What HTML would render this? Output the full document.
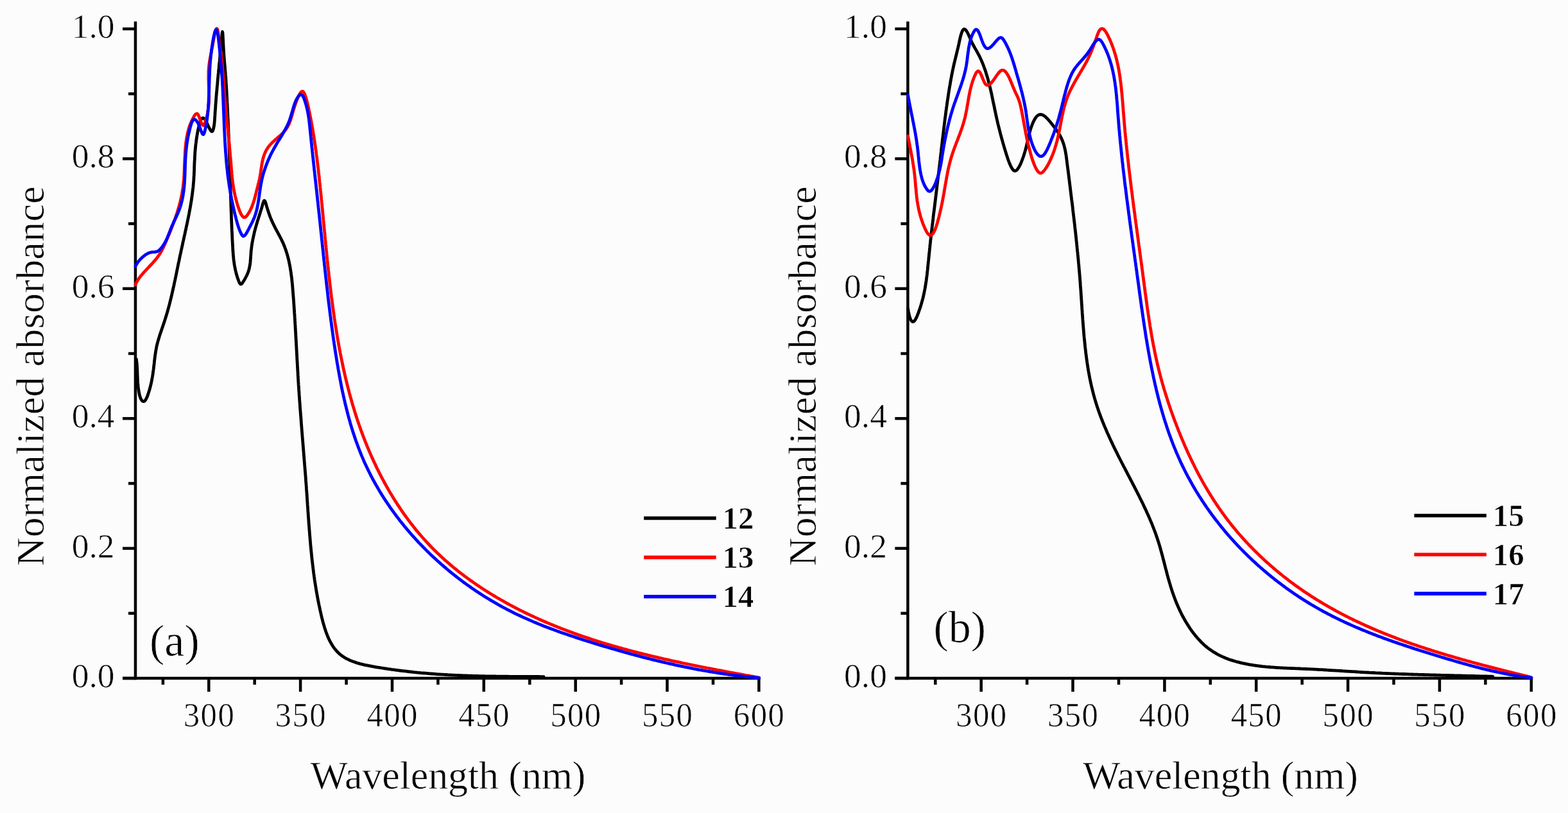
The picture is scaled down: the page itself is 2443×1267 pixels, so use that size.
<!DOCTYPE html>
<html><head><meta charset="utf-8"><title>Normalized absorbance spectra</title>
<style>
html,body{margin:0;padding:0;background:#fcfcfc;}
svg{display:block;}
text{font-family:"Liberation Serif","Times New Roman",serif;fill:#000;stroke:#fcfcfc;stroke-width:0.7px;}
</style></head>
<body>
<svg width="2443" height="1267" viewBox="0 0 2443 1267">
<rect width="2443" height="1267" fill="#fcfcfc"/>
<line x1="211.0" y1="33.5" x2="211.0" y2="1059.2" stroke="#000" stroke-width="4.5"/>
<line x1="191.0" y1="1057.0" x2="1184.8" y2="1057.0" stroke="#000" stroke-width="4.5"/>
<line x1="191.0" y1="1057.0" x2="211.0" y2="1057.0" stroke="#000" stroke-width="4.5"/>
<line x1="200.0" y1="955.8" x2="211.0" y2="955.8" stroke="#000" stroke-width="4.5"/>
<line x1="191.0" y1="854.6" x2="211.0" y2="854.6" stroke="#000" stroke-width="4.5"/>
<line x1="200.0" y1="753.4" x2="211.0" y2="753.4" stroke="#000" stroke-width="4.5"/>
<line x1="191.0" y1="652.2" x2="211.0" y2="652.2" stroke="#000" stroke-width="4.5"/>
<line x1="200.0" y1="551.0" x2="211.0" y2="551.0" stroke="#000" stroke-width="4.5"/>
<line x1="191.0" y1="449.8" x2="211.0" y2="449.8" stroke="#000" stroke-width="4.5"/>
<line x1="200.0" y1="348.6" x2="211.0" y2="348.6" stroke="#000" stroke-width="4.5"/>
<line x1="191.0" y1="247.4" x2="211.0" y2="247.4" stroke="#000" stroke-width="4.5"/>
<line x1="200.0" y1="146.2" x2="211.0" y2="146.2" stroke="#000" stroke-width="4.5"/>
<line x1="191.0" y1="45.0" x2="211.0" y2="45.0" stroke="#000" stroke-width="4.5"/>
<line x1="253.9" y1="1057.0" x2="253.9" y2="1067.0" stroke="#000" stroke-width="4.5"/>
<line x1="325.3" y1="1057.0" x2="325.3" y2="1078.0" stroke="#000" stroke-width="4.5"/>
<line x1="396.7" y1="1057.0" x2="396.7" y2="1067.0" stroke="#000" stroke-width="4.5"/>
<line x1="468.1" y1="1057.0" x2="468.1" y2="1078.0" stroke="#000" stroke-width="4.5"/>
<line x1="539.6" y1="1057.0" x2="539.6" y2="1067.0" stroke="#000" stroke-width="4.5"/>
<line x1="611.0" y1="1057.0" x2="611.0" y2="1078.0" stroke="#000" stroke-width="4.5"/>
<line x1="682.4" y1="1057.0" x2="682.4" y2="1067.0" stroke="#000" stroke-width="4.5"/>
<line x1="753.8" y1="1057.0" x2="753.8" y2="1078.0" stroke="#000" stroke-width="4.5"/>
<line x1="825.3" y1="1057.0" x2="825.3" y2="1067.0" stroke="#000" stroke-width="4.5"/>
<line x1="896.7" y1="1057.0" x2="896.7" y2="1078.0" stroke="#000" stroke-width="4.5"/>
<line x1="968.1" y1="1057.0" x2="968.1" y2="1067.0" stroke="#000" stroke-width="4.5"/>
<line x1="1039.5" y1="1057.0" x2="1039.5" y2="1078.0" stroke="#000" stroke-width="4.5"/>
<line x1="1111.0" y1="1057.0" x2="1111.0" y2="1067.0" stroke="#000" stroke-width="4.5"/>
<line x1="1182.4" y1="1057.0" x2="1182.4" y2="1078.0" stroke="#000" stroke-width="4.5"/>
<text transform="translate(178.5,1071.0) scale(1.0,1)" text-anchor="end" font-size="53.5">0.0</text>
<text transform="translate(178.5,868.6) scale(1.0,1)" text-anchor="end" font-size="53.5">0.2</text>
<text transform="translate(178.5,666.2) scale(1.0,1)" text-anchor="end" font-size="53.5">0.4</text>
<text transform="translate(178.5,463.8) scale(1.0,1)" text-anchor="end" font-size="53.5">0.6</text>
<text transform="translate(178.5,261.4) scale(1.0,1)" text-anchor="end" font-size="53.5">0.8</text>
<text transform="translate(178.5,59.0) scale(1.0,1)" text-anchor="end" font-size="53.5">1.0</text>
<text transform="translate(326.0,1132.0) scale(0.95,1)" text-anchor="middle" font-size="53.5" letter-spacing="1.5">300</text>
<text transform="translate(468.8,1132.0) scale(0.95,1)" text-anchor="middle" font-size="53.5" letter-spacing="1.5">350</text>
<text transform="translate(611.7,1132.0) scale(0.95,1)" text-anchor="middle" font-size="53.5" letter-spacing="1.5">400</text>
<text transform="translate(754.5,1132.0) scale(0.95,1)" text-anchor="middle" font-size="53.5" letter-spacing="1.5">450</text>
<text transform="translate(897.4,1132.0) scale(0.95,1)" text-anchor="middle" font-size="53.5" letter-spacing="1.5">500</text>
<text transform="translate(1040.2,1132.0) scale(0.95,1)" text-anchor="middle" font-size="53.5" letter-spacing="1.5">550</text>
<text transform="translate(1183.1,1132.0) scale(0.95,1)" text-anchor="middle" font-size="53.5" letter-spacing="1.5">600</text>
<text x="483.5" y="1228.5" font-size="62" textLength="429" lengthAdjust="spacing">Wavelength (nm)</text>
<text transform="translate(67.5,882.3) rotate(-90)" x="0" y="0" font-size="62" textLength="592" lengthAdjust="spacing">Normalized absorbance</text>
<text x="233.0" y="1021.5" font-size="70">(a)</text>
<path d="M212.5,560.0L212.8,562.9L213.1,565.6L213.4,568.2L213.5,570.6L213.7,573.0L213.8,575.2L213.9,577.5L214.0,579.7L214.0,581.9L214.1,584.1L214.2,586.4L214.3,588.8L214.4,591.4L214.5,594.1L214.7,596.9L215.0,599.9L215.3,603.0L215.7,606.2L216.1,609.3L216.7,612.3L217.3,615.1L218.0,617.8L218.8,620.1L219.8,622.2L220.8,623.8L221.8,624.9L222.9,625.6L224.1,625.7L225.2,625.1L226.4,623.9L227.5,622.0L228.7,619.6L229.8,617.0L230.8,614.1L231.7,611.2L232.6,608.4L233.5,605.5L234.2,602.7L234.9,599.9L235.5,597.2L236.1,594.5L236.6,591.8L237.1,589.1L237.6,586.4L238.0,583.8L238.4,581.2L238.7,578.6L239.1,576.0L239.4,573.4L239.7,570.9L240.0,568.3L240.3,565.8L240.5,563.3L240.8,560.9L241.1,558.4L241.4,556.0L241.7,553.5L242.1,551.1L242.5,548.7L242.8,546.3L243.3,543.9L243.7,541.5L244.2,539.1L244.8,536.7L245.4,534.4L246.0,532.0L246.7,529.7L247.4,527.3L248.1,525.0L248.8,522.6L249.6,520.3L250.4,517.9L251.2,515.6L252.0,513.3L252.8,510.9L253.6,508.6L254.4,506.2L255.2,503.9L256.0,501.5L256.7,499.2L257.5,496.8L258.2,494.5L259.0,492.1L259.7,489.7L260.4,487.3L261.1,485.0L261.7,482.6L262.4,480.2L263.0,477.8L263.7,475.4L264.3,473.0L264.9,470.6L265.5,468.2L266.1,465.7L266.7,463.3L267.3,460.9L267.8,458.5L268.4,456.1L268.9,453.6L269.5,451.2L270.0,448.7L270.6,446.3L271.1,443.9L271.6,441.4L272.1,439.0L272.7,436.5L273.2,434.1L273.7,431.6L274.2,429.2L274.7,426.7L275.2,424.2L275.7,421.8L276.2,419.3L276.7,416.9L277.2,414.4L277.7,411.9L278.2,409.5L278.8,407.0L279.3,404.5L279.8,402.0L280.3,399.6L280.8,397.1L281.4,394.6L281.9,392.2L282.4,389.7L283.0,387.2L283.5,384.7L284.1,382.3L284.6,379.8L285.1,377.3L285.7,374.8L286.2,372.4L286.8,369.9L287.3,367.4L287.9,365.0L288.4,362.5L288.9,360.0L289.5,357.6L290.0,355.1L290.5,352.6L291.1,350.2L291.6,347.7L292.1,345.2L292.6,342.8L293.1,340.3L293.6,337.9L294.1,335.4L294.6,333.0L295.0,330.5L295.5,328.1L295.9,325.6L296.4,323.2L296.8,320.7L297.2,318.3L297.6,315.9L298.0,313.5L298.4,311.0L298.7,308.6L299.1,306.2L299.4,303.8L299.7,301.4L300.0,298.9L300.3,296.5L300.6,294.1L300.9,291.7L301.1,289.3L301.3,287.0L301.5,284.6L301.7,282.2L301.9,279.8L302.0,277.4L302.1,275.1L302.3,272.7L302.4,270.3L302.5,267.9L302.6,265.5L302.7,263.1L302.7,260.7L302.8,258.3L302.9,255.9L303.0,253.5L303.1,251.0L303.3,248.5L303.4,246.0L303.5,243.5L303.7,241.0L303.8,238.4L304.0,235.8L304.2,233.2L304.5,230.6L304.7,227.9L305.0,225.2L305.4,222.5L305.7,219.7L306.1,216.9L306.5,214.0L307.0,211.1L307.5,208.2L308.0,205.2L308.6,202.2L309.3,199.2L310.0,196.2L310.7,193.3L311.5,190.6L312.4,188.2L313.3,186.3L314.3,184.8L315.3,184.0L316.5,183.8L317.7,184.4L319.0,185.8L320.3,187.9L321.7,190.5L323.1,193.3L324.4,196.3L325.8,199.0L327.1,201.5L328.3,203.4L329.4,204.6L330.4,204.9L331.3,204.1L332.0,202.4L332.6,200.4L333.1,198.1L333.5,195.7L333.9,193.2L334.1,190.7L334.4,188.0L334.5,185.3L334.7,182.6L334.9,179.9L335.0,177.2L335.2,174.5L335.4,171.8L335.6,169.2L335.8,166.6L335.9,163.9L336.1,161.4L336.3,158.8L336.5,156.2L336.7,153.7L336.9,151.1L337.1,148.6L337.3,146.1L337.6,143.6L337.8,141.1L338.0,138.6L338.2,136.1L338.4,133.6L338.7,131.2L338.9,128.7L339.1,126.3L339.3,123.8L339.6,121.4L339.8,118.9L340.0,116.5L340.3,114.0L340.5,111.6L340.7,109.2L341.0,106.7L341.2,104.3L341.4,101.8L341.7,99.4L341.9,96.9L342.2,94.5L342.4,92.0L342.6,89.5L342.9,87.1L343.1,84.6L343.3,82.1L343.6,79.6L343.8,77.1L344.0,74.5L344.3,72.0L344.5,69.5L344.7,66.9L345.0,64.3L345.2,61.7L345.4,59.1L345.7,56.5L345.9,53.9L346.1,51.7L346.3,50.1L346.5,49.5L346.8,50.3L347.0,52.2L347.2,55.2L347.4,58.8L347.6,62.8L347.8,66.9L348.0,70.8L348.2,74.5L348.4,78.0L348.6,81.2L348.8,84.2L349.0,87.0L349.2,89.7L349.4,92.2L349.5,94.5L349.7,96.8L349.9,98.9L350.1,101.0L350.3,103.0L350.4,105.0L350.6,106.9L350.8,108.9L350.9,110.8L351.1,112.8L351.3,114.8L351.4,116.9L351.6,119.1L351.8,121.3L351.9,123.6L352.1,126.0L352.2,128.4L352.4,130.8L352.5,133.3L352.7,135.8L352.8,138.3L353.0,140.9L353.1,143.5L353.2,146.1L353.4,148.7L353.5,151.3L353.7,154.0L353.8,156.6L353.9,159.2L354.1,161.8L354.2,164.4L354.3,167.0L354.4,169.6L354.6,172.2L354.7,174.8L354.8,177.3L354.9,179.9L355.0,182.4L355.2,184.9L355.3,187.5L355.4,190.0L355.5,192.5L355.6,195.0L355.7,197.5L355.8,200.0L355.9,202.5L356.0,205.0L356.1,207.5L356.2,209.9L356.3,212.4L356.4,214.9L356.5,217.3L356.6,219.8L356.7,222.3L356.8,224.7L356.9,227.2L357.0,229.7L357.1,232.1L357.2,234.6L357.3,237.1L357.4,239.5L357.4,242.0L357.5,244.5L357.6,246.9L357.7,249.4L357.8,251.9L357.9,254.4L357.9,256.8L358.0,259.3L358.1,261.8L358.2,264.3L358.2,266.8L358.3,269.3L358.4,271.8L358.5,274.3L358.5,276.8L358.6,279.3L358.7,281.8L358.8,284.3L358.8,286.8L358.9,289.3L359.0,291.8L359.1,294.3L359.1,296.8L359.2,299.4L359.3,301.9L359.4,304.4L359.4,306.9L359.5,309.4L359.6,311.9L359.7,314.5L359.8,317.0L359.8,319.5L359.9,322.0L360.0,324.5L360.1,327.0L360.2,329.6L360.3,332.1L360.4,334.6L360.4,337.1L360.5,339.6L360.6,342.1L360.7,344.7L360.8,347.2L360.9,349.7L361.0,352.2L361.1,354.7L361.2,357.2L361.3,359.7L361.5,362.2L361.6,364.7L361.7,367.2L361.8,369.7L361.9,372.2L362.0,374.6L362.2,377.1L362.3,379.6L362.4,382.0L362.6,384.5L362.7,386.9L362.8,389.3L363.0,391.8L363.2,394.2L363.3,396.6L363.6,399.1L363.8,401.5L364.0,404.0L364.3,406.4L364.7,408.9L365.0,411.4L365.4,413.9L365.9,416.4L366.4,418.9L366.9,421.5L367.6,424.1L368.2,426.7L369.0,429.3L369.8,432.0L370.7,434.7L371.7,437.4L372.7,440.0L373.8,441.9L375.0,442.9L376.4,442.5L377.7,441.0L379.1,438.8L380.6,436.4L382.0,434.0L383.3,431.5L384.6,429.0L385.7,426.4L386.7,423.9L387.5,421.4L388.2,419.0L388.7,416.5L389.2,414.1L389.6,411.7L389.9,409.3L390.1,406.8L390.3,404.4L390.5,402.0L390.6,399.6L390.8,397.2L391.0,394.8L391.1,392.3L391.4,389.9L391.7,387.4L392.0,384.9L392.3,382.4L392.7,379.9L393.1,377.5L393.6,375.0L394.0,372.5L394.6,370.0L395.1,367.5L395.7,365.0L396.2,362.5L396.8,360.1L397.5,357.6L398.1,355.2L398.8,352.8L399.5,350.4L400.2,348.0L400.9,345.6L401.6,343.3L402.4,340.9L403.1,338.5L403.9,336.2L404.7,333.8L405.4,331.3L406.2,328.8L407.0,326.3L407.8,323.7L408.5,321.1L409.3,318.4L410.1,315.8L410.9,313.7L411.6,312.6L412.4,312.8L413.2,314.1L414.0,316.4L414.8,319.1L415.6,322.0L416.5,324.9L417.3,327.6L418.2,330.3L419.1,332.9L420.0,335.4L420.9,337.9L421.9,340.3L422.8,342.6L423.9,344.9L424.9,347.2L426.0,349.4L427.1,351.7L428.2,353.9L429.3,356.1L430.5,358.2L431.6,360.4L432.8,362.5L433.9,364.7L435.1,366.8L436.2,369.0L437.3,371.1L438.4,373.3L439.4,375.4L440.5,377.6L441.5,379.8L442.4,382.0L443.3,384.3L444.1,386.5L445.0,388.8L445.7,391.1L446.5,393.4L447.2,395.7L447.9,398.0L448.5,400.4L449.1,402.7L449.7,405.1L450.2,407.5L450.7,409.9L451.2,412.3L451.7,414.7L452.1,417.2L452.5,419.6L452.9,422.1L453.3,424.5L453.6,427.0L453.9,429.5L454.3,431.9L454.6,434.4L454.8,436.9L455.1,439.4L455.3,441.9L455.6,444.4L455.8,447.0L456.0,449.5L456.2,452.0L456.4,454.5L456.6,457.0L456.8,459.5L457.0,462.0L457.2,464.6L457.4,467.1L457.6,469.6L457.7,472.1L457.9,474.6L458.1,477.1L458.2,479.6L458.4,482.2L458.6,484.7L458.7,487.2L458.9,489.7L459.1,492.2L459.2,494.7L459.4,497.2L459.5,499.7L459.7,502.2L459.8,504.7L460.0,507.2L460.1,509.7L460.2,512.3L460.4,514.8L460.5,517.3L460.7,519.8L460.8,522.3L460.9,524.8L461.1,527.3L461.2,529.8L461.4,532.3L461.5,534.8L461.6,537.3L461.8,539.8L461.9,542.3L462.0,544.8L462.2,547.3L462.3,549.8L462.4,552.3L462.6,554.8L462.7,557.3L462.8,559.8L463.0,562.3L463.1,564.8L463.3,567.3L463.4,569.8L463.5,572.3L463.7,574.8L463.8,577.3L464.0,579.8L464.1,582.3L464.2,584.7L464.4,587.2L464.5,589.7L464.7,592.2L464.8,594.7L465.0,597.2L465.1,599.7L465.3,602.2L465.5,604.7L465.6,607.2L465.8,609.7L466.0,612.2L466.1,614.7L466.3,617.1L466.5,619.6L466.6,622.1L466.8,624.6L467.0,627.1L467.2,629.6L467.4,632.1L467.5,634.6L467.7,637.1L467.9,639.6L468.1,642.0L468.3,644.5L468.5,647.0L468.7,649.5L468.9,652.0L469.1,654.5L469.2,657.0L469.4,659.5L469.6,661.9L469.8,664.4L470.0,666.9L470.2,669.4L470.4,671.9L470.6,674.4L470.8,676.9L471.0,679.4L471.2,681.8L471.4,684.3L471.6,686.8L471.8,689.3L472.0,691.8L472.2,694.3L472.4,696.8L472.6,699.2L472.8,701.7L473.0,704.2L473.2,706.7L473.4,709.2L473.6,711.7L473.8,714.2L474.0,716.6L474.2,719.1L474.4,721.6L474.6,724.1L474.8,726.6L475.0,729.1L475.2,731.6L475.4,734.0L475.6,736.5L475.8,739.0L476.0,741.5L476.2,744.0L476.4,746.5L476.5,748.9L476.7,751.4L476.9,753.9L477.1,756.4L477.3,758.9L477.4,761.4L477.6,763.9L477.8,766.3L478.0,768.8L478.1,771.3L478.3,773.8L478.5,776.3L478.6,778.8L478.8,781.3L479.0,783.7L479.1,786.2L479.3,788.7L479.5,791.2L479.7,793.7L479.8,796.2L480.0,798.7L480.2,801.2L480.3,803.6L480.5,806.1L480.7,808.6L480.9,811.1L481.0,813.6L481.2,816.1L481.4,818.6L481.6,821.1L481.8,823.5L482.0,826.0L482.2,828.5L482.4,831.0L482.5,833.5L482.8,836.0L483.0,838.5L483.2,841.0L483.4,843.5L483.6,846.0L483.8,848.4L484.0,850.9L484.3,853.4L484.5,855.9L484.8,858.4L485.0,860.9L485.3,863.4L485.5,865.9L485.8,868.4L486.0,870.9L486.3,873.4L486.6,875.9L486.9,878.3L487.2,880.8L487.5,883.3L487.8,885.8L488.1,888.3L488.4,890.8L488.7,893.3L489.1,895.8L489.4,898.3L489.8,900.8L490.1,903.3L490.5,905.8L490.9,908.3L491.3,910.8L491.7,913.3L492.1,915.8L492.5,918.3L492.9,920.8L493.3,923.3L493.8,925.8L494.2,928.3L494.7,930.8L495.1,933.3L495.6,935.8L496.1,938.3L496.6,940.8L497.1,943.3L497.7,945.8L498.2,948.3L498.7,950.8L499.3,953.3L499.9,955.8L500.4,958.3L501.0,960.8L501.6,963.4L502.3,965.9L502.9,968.3L503.6,970.8L504.3,973.3L505.0,975.7L505.7,978.2L506.5,980.6L507.3,983.0L508.1,985.3L509.0,987.7L509.9,990.0L510.8,992.3L511.8,994.5L512.8,996.7L513.9,998.9L515.0,1001.0L516.2,1003.0L517.4,1005.1L518.6,1007.0L519.9,1008.9L521.3,1010.8L522.8,1012.6L524.3,1014.3L525.8,1016.0L527.4,1017.6L529.1,1019.1L530.9,1020.6L532.7,1022.0L534.6,1023.3L536.6,1024.6L538.6,1025.8L540.7,1026.9L542.8,1027.9L545.0,1029.0L547.2,1029.9L549.5,1030.8L551.8,1031.6L554.2,1032.4L556.6,1033.2L559.0,1033.9L561.5,1034.6L564.0,1035.2L566.5,1035.8L569.0,1036.4L571.6,1036.9L574.2,1037.4L576.7,1037.9L579.3,1038.4L581.9,1038.9L584.5,1039.3L587.1,1039.8L589.7,1040.2L592.3,1040.6L594.8,1041.0L597.4,1041.4L600.0,1041.8L602.5,1042.2L605.1,1042.6L607.7,1042.9L610.2,1043.3L612.8,1043.6L615.3,1044.0L617.8,1044.3L620.4,1044.7L622.9,1045.0L625.4,1045.3L627.9,1045.6L630.5,1045.9L633.0,1046.2L635.5,1046.5L638.0,1046.8L640.5,1047.0L643.0,1047.3L645.5,1047.6L648.0,1047.8L650.5,1048.1L653.0,1048.3L655.5,1048.6L658.0,1048.8L660.4,1049.0L662.9,1049.2L665.4,1049.4L667.9,1049.6L670.4,1049.8L672.8,1050.0L675.3,1050.2L677.8,1050.4L680.2,1050.6L682.7,1050.8L685.2,1050.9L687.6,1051.1L690.1,1051.2L692.6,1051.4L695.0,1051.5L697.5,1051.7L699.9,1051.8L702.4,1051.9L704.9,1052.1L707.3,1052.2L709.8,1052.3L712.2,1052.4L714.7,1052.5L717.1,1052.6L719.6,1052.7L722.1,1052.8L724.5,1052.9L727.0,1053.0L729.4,1053.1L731.9,1053.2L734.3,1053.2L736.8,1053.3L739.3,1053.4L741.7,1053.5L744.2,1053.5L746.6,1053.6L749.1,1053.6L751.6,1053.7L754.0,1053.7L756.5,1053.8L759.0,1053.8L761.4,1053.9L763.9,1053.9L766.4,1054.0L768.8,1054.0L771.3,1054.0L773.8,1054.1L776.3,1054.1L778.8,1054.1L781.2,1054.1L783.7,1054.2L786.2,1054.2L788.7,1054.2L791.2,1054.2L793.7,1054.3L796.2,1054.3L798.7,1054.3L801.2,1054.3L803.7,1054.3L806.3,1054.4L808.8,1054.4L811.3,1054.4L813.8,1054.4L816.3,1054.4L818.9,1054.4L821.4,1054.4L824.0,1054.5L826.5,1054.5L829.0,1054.5L831.6,1054.5L834.2,1054.5L836.7,1054.5L839.3,1054.5L841.9,1054.6L844.4,1054.6L847.0,1054.6" fill="none" stroke="#000" stroke-width="4.8" stroke-linejoin="round" stroke-linecap="round"/>
<path d="M211.0,444.0L211.7,442.1L212.5,440.2L213.6,438.4L214.7,436.5L216.0,434.6L217.3,432.7L218.8,430.8L220.4,428.8L222.1,426.9L223.8,424.9L225.6,423.0L227.4,421.0L229.3,419.0L231.1,417.0L233.0,415.0L234.9,413.0L236.8,411.0L238.6,409.0L240.4,406.9L242.2,404.9L243.9,402.8L245.5,400.7L247.0,398.6L248.4,396.6L249.7,394.5L251.0,392.3L252.2,390.2L253.3,388.1L254.3,385.9L255.3,383.8L256.3,381.6L257.3,379.4L258.2,377.3L259.2,375.1L260.1,372.9L261.1,370.7L262.0,368.4L262.9,366.2L263.9,364.0L264.8,361.7L265.7,359.5L266.6,357.2L267.5,354.9L268.4,352.6L269.3,350.3L270.2,348.0L271.0,345.7L271.9,343.4L272.7,341.1L273.5,338.7L274.3,336.4L275.1,334.0L275.9,331.7L276.6,329.3L277.3,326.9L278.1,324.5L278.7,322.1L279.4,319.7L280.0,317.3L280.7,314.9L281.3,312.4L281.8,310.0L282.4,307.5L282.9,305.1L283.4,302.6L283.8,300.1L284.2,297.6L284.6,295.1L285.0,292.6L285.3,290.1L285.6,287.6L285.9,285.1L286.1,282.6L286.4,280.0L286.6,277.5L286.7,274.9L286.9,272.4L287.0,269.8L287.1,267.3L287.2,264.7L287.3,262.1L287.4,259.6L287.5,257.0L287.6,254.5L287.7,251.9L287.8,249.4L287.9,246.8L288.0,244.3L288.2,241.7L288.3,239.2L288.4,236.7L288.6,234.1L288.8,231.6L289.0,229.1L289.3,226.6L289.5,224.1L289.8,221.7L290.2,219.2L290.5,216.7L290.9,214.3L291.4,211.9L291.9,209.5L292.4,207.1L293.0,204.7L293.6,202.3L294.3,200.0L295.0,197.6L295.8,195.3L296.7,193.0L297.6,190.8L298.6,188.5L299.7,186.3L300.8,184.1L302.0,181.9L303.2,179.8L304.6,178.1L305.9,177.1L307.3,177.2L308.7,178.7L310.1,181.6L311.4,185.4L312.8,189.1L314.1,192.2L315.3,194.5L316.5,195.5L317.6,195.0L318.7,193.2L319.7,190.6L320.6,187.7L321.4,184.9L322.1,182.2L322.8,179.5L323.3,176.9L323.8,174.3L324.2,171.8L324.6,169.3L324.9,166.8L325.1,164.3L325.3,161.9L325.5,159.4L325.6,157.0L325.6,154.5L325.7,152.1L325.7,149.6L325.6,147.2L325.6,144.7L325.5,142.2L325.5,139.7L325.4,137.1L325.3,134.6L325.2,132.0L325.1,129.5L325.0,126.9L324.9,124.4L324.9,121.9L324.9,119.3L324.9,116.8L324.9,114.4L324.9,111.9L325.0,109.5L325.2,107.2L325.4,104.9L325.6,102.6L325.9,100.4L326.2,98.1L326.5,95.8L326.9,93.6L327.3,91.2L327.7,88.9L328.2,86.5L328.7,84.0L329.2,81.4L329.7,78.7L330.2,75.9L330.8,73.0L331.4,70.0L331.9,66.8L332.5,63.6L333.1,60.4L333.7,57.3L334.3,54.3L334.9,51.6L335.5,49.2L336.1,47.3L336.7,45.8L337.3,44.8L337.8,44.5L338.4,44.9L338.9,46.1L339.4,48.2L339.9,51.0L340.3,54.3L340.8,57.9L341.2,61.5L341.6,64.9L342.0,68.0L342.4,70.9L342.8,73.6L343.1,76.2L343.4,78.6L343.8,80.9L344.1,83.1L344.4,85.2L344.6,87.3L344.9,89.4L345.2,91.5L345.4,93.6L345.7,95.8L345.9,98.1L346.1,100.4L346.4,102.7L346.6,105.1L346.8,107.5L347.0,109.9L347.2,112.4L347.4,114.9L347.6,117.5L347.8,120.0L348.0,122.6L348.2,125.2L348.4,127.8L348.6,130.4L348.8,133.0L349.0,135.7L349.2,138.3L349.4,140.9L349.6,143.5L349.8,146.0L350.0,148.6L350.2,151.2L350.4,153.7L350.6,156.3L350.8,158.8L351.1,161.3L351.3,163.8L351.5,166.4L351.8,168.9L352.0,171.4L352.2,173.9L352.5,176.4L352.7,178.8L352.9,181.3L353.2,183.8L353.4,186.3L353.7,188.7L353.9,191.2L354.2,193.7L354.4,196.1L354.6,198.6L354.9,201.1L355.1,203.5L355.4,206.0L355.6,208.4L355.8,210.9L356.1,213.3L356.3,215.8L356.6,218.3L356.8,220.7L357.0,223.2L357.3,225.6L357.5,228.1L357.7,230.6L358.0,233.1L358.2,235.5L358.4,238.0L358.6,240.5L358.8,243.0L359.1,245.5L359.3,248.0L359.5,250.5L359.7,253.0L359.9,255.5L360.1,258.1L360.3,260.6L360.5,263.1L360.7,265.7L360.9,268.2L361.1,270.7L361.4,273.2L361.6,275.7L361.9,278.1L362.1,280.6L362.4,283.0L362.7,285.4L363.1,287.8L363.4,290.2L363.8,292.6L364.2,295.0L364.7,297.4L365.2,299.8L365.7,302.2L366.2,304.7L366.8,307.2L367.4,309.7L368.1,312.3L368.8,314.9L369.6,317.6L370.4,320.2L371.3,322.9L372.2,325.5L373.1,328.1L374.2,330.7L375.2,333.1L376.4,335.2L377.6,336.9L378.9,338.2L380.3,338.8L381.7,338.6L383.3,337.6L384.9,335.9L386.4,333.7L387.9,331.3L389.3,328.9L390.5,326.4L391.6,324.0L392.7,321.5L393.6,319.0L394.5,316.5L395.3,314.0L396.1,311.4L396.8,308.9L397.5,306.4L398.1,303.8L398.8,301.3L399.4,298.7L400.1,296.2L400.7,293.6L401.4,291.1L402.0,288.5L402.7,286.0L403.3,283.5L403.8,281.0L404.4,278.5L404.9,276.1L405.3,273.6L405.7,271.2L406.1,268.8L406.4,266.4L406.8,264.0L407.1,261.6L407.5,259.3L407.8,257.0L408.2,254.7L408.6,252.4L409.1,250.2L409.6,247.9L410.2,245.7L410.9,243.5L411.6,241.4L412.5,239.2L413.4,237.1L414.4,235.0L415.6,232.9L416.9,230.8L418.3,228.8L419.9,226.8L421.6,224.8L423.5,222.8L425.5,220.9L427.6,218.9L429.8,217.0L431.9,215.2L434.0,213.3L436.1,211.5L438.1,209.7L440.0,207.9L441.7,206.1L443.2,204.4L444.7,202.7L445.9,201.0L447.1,199.2L448.1,197.5L449.1,195.7L450.0,193.9L450.8,192.0L451.5,190.1L452.3,188.2L452.9,186.2L453.6,184.1L454.3,181.9L454.9,179.6L455.6,177.2L456.3,174.7L457.1,172.1L457.9,169.4L458.8,166.6L459.8,163.5L460.9,160.4L462.1,157.2L463.3,154.1L464.5,151.1L465.8,148.4L467.1,146.1L468.3,144.3L469.6,143.0L470.8,142.4L471.9,142.5L472.9,143.5L473.9,145.0L474.8,147.0L475.7,149.3L476.5,151.8L477.2,154.2L477.9,156.7L478.6,159.2L479.2,161.7L479.8,164.2L480.4,166.8L480.9,169.3L481.4,171.9L482.0,174.4L482.5,176.9L483.0,179.4L483.5,182.0L484.0,184.5L484.5,187.0L485.0,189.5L485.4,192.0L485.9,194.5L486.3,197.0L486.8,199.5L487.2,202.0L487.6,204.5L488.0,207.0L488.4,209.5L488.8,212.0L489.2,214.5L489.6,217.0L490.0,219.5L490.4,222.0L490.7,224.5L491.1,226.9L491.5,229.4L491.8,231.9L492.2,234.4L492.5,236.9L492.8,239.3L493.1,241.8L493.5,244.3L493.8,246.7L494.1,249.2L494.4,251.7L494.7,254.2L495.0,256.6L495.3,259.1L495.6,261.6L495.9,264.0L496.2,266.5L496.4,269.0L496.7,271.4L497.0,273.9L497.3,276.4L497.5,278.8L497.8,281.3L498.0,283.8L498.3,286.3L498.6,288.7L498.8,291.2L499.1,293.7L499.3,296.2L499.6,298.6L499.8,301.1L500.1,303.6L500.3,306.1L500.6,308.5L500.8,311.0L501.1,313.5L501.3,316.0L501.6,318.5L501.8,321.0L502.0,323.4L502.3,325.9L502.5,328.4L502.8,330.9L503.0,333.4L503.2,335.9L503.5,338.4L503.7,340.8L503.9,343.3L504.2,345.8L504.4,348.3L504.7,350.8L504.9,353.3L505.1,355.8L505.4,358.3L505.6,360.8L505.9,363.3L506.1,365.8L506.3,368.3L506.6,370.8L506.8,373.3L507.1,375.8L507.3,378.2L507.5,380.7L507.8,383.2L508.0,385.7L508.3,388.2L508.5,390.7L508.8,393.2L509.0,395.7L509.3,398.2L509.5,400.7L509.8,403.2L510.0,405.7L510.3,408.2L510.6,410.7L510.8,413.2L511.1,415.7L511.4,418.2L511.6,420.7L511.9,423.2L512.2,425.7L512.4,428.2L512.7,430.7L513.0,433.2L513.3,435.7L513.6,438.1L513.8,440.6L514.1,443.1L514.4,445.6L514.7,448.1L515.0,450.6L515.3,453.1L515.6,455.6L515.9,458.1L516.2,460.6L516.5,463.1L516.9,465.6L517.2,468.0L517.5,470.5L517.8,473.0L518.2,475.5L518.5,478.0L518.8,480.5L519.2,483.0L519.5,485.4L519.9,487.9L520.2,490.4L520.6,492.9L520.9,495.4L521.3,497.8L521.7,500.3L522.0,502.8L522.4,505.3L522.8,507.7L523.2,510.2L523.6,512.7L524.0,515.2L524.4,517.6L524.8,520.1L525.2,522.6L525.6,525.0L526.0,527.5L526.4,530.0L526.9,532.4L527.3,534.9L527.7,537.3L528.2,539.8L528.6,542.3L529.1,544.7L529.6,547.2L530.0,549.6L530.5,552.1L531.0,554.5L531.5,557.0L532.0,559.4L532.5,561.9L533.0,564.3L533.5,566.8L534.0,569.2L534.5,571.6L535.0,574.1L535.6,576.5L536.1,578.9L536.7,581.4L537.2,583.8L537.8,586.2L538.4,588.7L538.9,591.1L539.5,593.5L540.1,595.9L540.7,598.3L541.3,600.8L541.9,603.2L542.5,605.6L543.2,608.0L543.8,610.4L544.4,612.8L545.1,615.2L545.7,617.6L546.4,620.0L547.1,622.4L547.8,624.8L548.4,627.2L549.1,629.6L549.8,632.0L550.6,634.4L551.3,636.8L552.0,639.2L552.7,641.5L553.5,643.9L554.2,646.3L555.0,648.7L555.8,651.0L556.5,653.4L557.3,655.8L558.1,658.1L558.9,660.5L559.7,662.8L560.6,665.2L561.4,667.6L562.2,669.9L563.1,672.3L564.0,674.6L564.8,676.9L565.7,679.3L566.6,681.6L567.5,683.9L568.4,686.3L569.3,688.6L570.2,690.9L571.2,693.2L572.1,695.6L573.1,697.9L574.1,700.2L575.0,702.5L576.0,704.8L577.0,707.1L578.0,709.4L579.0,711.7L580.1,714.0L581.1,716.3L582.1,718.6L583.2,720.8L584.3,723.1L585.4,725.4L586.4,727.7L587.5,729.9L588.6,732.2L589.8,734.4L590.9,736.7L592.0,738.9L593.2,741.2L594.3,743.4L595.5,745.6L596.7,747.8L597.9,750.0L599.1,752.3L600.3,754.5L601.5,756.7L602.7,758.8L604.0,761.0L605.2,763.2L606.5,765.4L607.8,767.6L609.1,769.7L610.4,771.9L611.7,774.0L613.0,776.2L614.3,778.3L615.6,780.4L617.0,782.5L618.3,784.6L619.7,786.7L621.1,788.8L622.5,790.9L623.9,793.0L625.3,795.1L626.7,797.1L628.1,799.2L629.6,801.3L631.0,803.3L632.5,805.3L634.0,807.4L635.5,809.4L637.0,811.4L638.5,813.4L640.0,815.4L641.5,817.3L643.1,819.3L644.6,821.3L646.2,823.2L647.7,825.2L649.3,827.1L650.9,829.0L652.5,830.9L654.1,832.8L655.8,834.7L657.4,836.6L659.1,838.5L660.7,840.4L662.4,842.2L664.1,844.1L665.8,845.9L667.5,847.7L669.2,849.5L670.9,851.3L672.7,853.1L674.4,854.9L676.2,856.6L677.9,858.4L679.7,860.1L681.5,861.9L683.3,863.6L685.1,865.3L686.9,867.0L688.8,868.7L690.6,870.4L692.5,872.1L694.3,873.7L696.2,875.4L698.1,877.0L700.0,878.6L701.9,880.3L703.8,881.9L705.7,883.5L707.6,885.1L709.6,886.6L711.5,888.2L713.5,889.8L715.4,891.3L717.4,892.9L719.4,894.4L721.4,895.9L723.3,897.4L725.3,898.9L727.4,900.4L729.4,901.9L731.4,903.3L733.4,904.8L735.5,906.2L737.5,907.7L739.6,909.1L741.6,910.5L743.7,911.9L745.8,913.3L747.9,914.7L749.9,916.1L752.0,917.5L754.1,918.8L756.2,920.2L758.4,921.5L760.5,922.9L762.6,924.2L764.7,925.5L766.9,926.8L769.0,928.1L771.2,929.4L773.3,930.7L775.5,932.0L777.6,933.2L779.8,934.5L782.0,935.7L784.2,936.9L786.3,938.2L788.5,939.4L790.7,940.6L792.9,941.8L795.1,943.0L797.3,944.2L799.5,945.3L801.7,946.5L804.0,947.6L806.2,948.8L808.4,949.9L810.6,951.1L812.9,952.2L815.1,953.3L817.3,954.4L819.6,955.5L821.8,956.6L824.1,957.6L826.3,958.7L828.6,959.8L830.9,960.8L833.1,961.9L835.4,962.9L837.7,963.9L839.9,965.0L842.2,966.0L844.5,967.0L846.8,968.0L849.1,969.0L851.4,970.0L853.7,970.9L856.0,971.9L858.3,972.9L860.6,973.8L862.9,974.8L865.2,975.7L867.5,976.6L869.8,977.6L872.2,978.5L874.5,979.4L876.8,980.3L879.1,981.2L881.5,982.1L883.8,983.0L886.2,983.8L888.5,984.7L890.8,985.6L893.2,986.4L895.5,987.3L897.9,988.1L900.2,988.9L902.6,989.8L905.0,990.6L907.3,991.4L909.7,992.2L912.1,993.0L914.4,993.8L916.8,994.6L919.2,995.4L921.5,996.2L923.9,997.0L926.3,997.7L928.7,998.5L931.1,999.3L933.5,1000.0L935.9,1000.7L938.3,1001.5L940.6,1002.2L943.0,1003.0L945.4,1003.7L947.8,1004.4L950.2,1005.1L952.6,1005.8L955.1,1006.5L957.5,1007.2L959.9,1007.9L962.3,1008.6L964.7,1009.3L967.1,1009.9L969.5,1010.6L971.9,1011.3L974.4,1011.9L976.8,1012.6L979.2,1013.3L981.6,1013.9L984.1,1014.5L986.5,1015.2L988.9,1015.8L991.3,1016.4L993.8,1017.1L996.2,1017.7L998.6,1018.3L1001.1,1018.9L1003.5,1019.5L1006.0,1020.1L1008.4,1020.7L1010.8,1021.3L1013.3,1021.9L1015.7,1022.5L1018.2,1023.1L1020.6,1023.7L1023.1,1024.2L1025.5,1024.8L1027.9,1025.4L1030.4,1025.9L1032.8,1026.5L1035.3,1027.1L1037.7,1027.6L1040.2,1028.2L1042.6,1028.7L1045.1,1029.3L1047.6,1029.8L1050.0,1030.3L1052.5,1030.9L1054.9,1031.4L1057.4,1031.9L1059.8,1032.4L1062.3,1033.0L1064.7,1033.5L1067.2,1034.0L1069.7,1034.5L1072.1,1035.0L1074.6,1035.5L1077.0,1036.0L1079.5,1036.5L1081.9,1037.0L1084.4,1037.5L1086.9,1038.0L1089.3,1038.5L1091.8,1039.0L1094.2,1039.5L1096.7,1040.0L1099.2,1040.5L1101.6,1041.0L1104.1,1041.4L1106.5,1041.9L1109.0,1042.4L1111.4,1042.9L1113.9,1043.3L1116.4,1043.8L1118.8,1044.3L1121.3,1044.7L1123.7,1045.2L1126.2,1045.7L1128.6,1046.1L1131.1,1046.6L1133.6,1047.0L1136.0,1047.5L1138.5,1048.0L1140.9,1048.4L1143.4,1048.9L1145.8,1049.3L1148.3,1049.8L1150.7,1050.2L1153.2,1050.7L1155.6,1051.1L1158.1,1051.6L1160.5,1052.0L1163.0,1052.5L1165.4,1052.9L1167.8,1053.3L1170.3,1053.8L1172.7,1054.2L1175.2,1054.7L1177.6,1055.1L1180.1,1055.6L1182.5,1056.0" fill="none" stroke="#f00" stroke-width="4.8" stroke-linejoin="round" stroke-linecap="round"/>
<path d="M211.0,415.0L211.9,413.2L213.1,411.3L214.4,409.3L215.9,407.2L217.6,405.2L219.5,403.2L221.5,401.3L223.5,399.5L225.7,397.8L227.9,396.3L230.2,395.0L232.5,394.0L234.8,393.3L237.2,392.9L239.5,392.8L241.7,392.6L243.9,392.2L246.0,391.4L248.0,390.0L249.8,388.1L251.6,386.1L253.2,384.0L254.6,381.9L255.9,379.8L257.2,377.7L258.3,375.6L259.3,373.5L260.3,371.3L261.2,369.2L262.1,367.0L263.0,364.8L263.8,362.6L264.7,360.4L265.5,358.2L266.4,356.0L267.3,353.7L268.2,351.5L269.3,349.2L270.3,346.9L271.4,344.6L272.5,342.3L273.6,340.0L274.6,337.7L275.7,335.4L276.8,333.0L277.8,330.6L278.7,328.3L279.6,325.9L280.5,323.5L281.3,321.1L282.0,318.6L282.6,316.2L283.3,313.8L283.8,311.3L284.3,308.9L284.8,306.4L285.3,304.0L285.6,301.5L286.0,299.1L286.3,296.6L286.6,294.2L286.9,291.7L287.1,289.2L287.3,286.8L287.5,284.3L287.6,281.9L287.7,279.5L287.9,277.0L288.0,274.6L288.1,272.2L288.2,269.8L288.2,267.4L288.3,265.0L288.4,262.7L288.5,260.3L288.5,258.0L288.6,255.6L288.7,253.2L288.8,250.8L288.9,248.5L289.1,246.0L289.2,243.6L289.4,241.2L289.6,238.7L289.8,236.2L290.0,233.7L290.3,231.2L290.6,228.6L290.9,226.0L291.3,223.3L291.7,220.6L292.2,217.9L292.7,215.1L293.2,212.2L293.8,209.3L294.5,206.4L295.2,203.4L295.9,200.3L296.7,197.2L297.6,194.2L298.5,191.5L299.5,189.2L300.6,187.4L301.8,186.2L303.0,185.9L304.2,186.4L305.5,187.5L306.8,189.2L308.1,191.3L309.4,193.9L310.6,196.7L311.8,199.8L312.9,202.8L313.9,205.5L314.9,207.8L315.8,209.2L316.6,209.6L317.4,208.9L318.2,207.3L318.9,205.1L319.5,202.6L320.1,200.0L320.7,197.4L321.2,194.7L321.7,192.0L322.1,189.3L322.5,186.5L322.9,183.7L323.2,181.0L323.5,178.2L323.8,175.4L324.0,172.7L324.3,169.9L324.5,167.2L324.6,164.6L324.8,161.9L325.0,159.3L325.1,156.7L325.2,154.2L325.3,151.7L325.4,149.2L325.5,146.8L325.6,144.4L325.7,142.0L325.7,139.6L325.8,137.2L325.9,134.8L325.9,132.5L326.0,130.1L326.1,127.8L326.1,125.5L326.2,123.1L326.3,120.8L326.4,118.4L326.5,116.1L326.6,113.7L326.7,111.3L326.8,108.9L326.9,106.5L327.1,104.0L327.2,101.6L327.4,99.1L327.6,96.6L327.8,94.0L328.1,91.4L328.3,88.8L328.6,86.1L328.9,83.4L329.3,80.6L329.6,77.8L330.0,74.9L330.4,72.0L330.9,69.1L331.4,66.0L331.9,63.0L332.4,60.0L333.0,57.1L333.6,54.4L334.1,52.0L334.7,49.9L335.3,48.2L335.9,47.0L336.4,46.3L337.0,46.2L337.5,46.8L338.0,47.9L338.5,49.5L339.0,51.5L339.4,53.9L339.8,56.7L340.2,59.6L340.6,62.8L341.0,66.1L341.4,69.5L341.7,72.9L342.1,76.3L342.4,79.5L342.7,82.7L343.0,85.7L343.3,88.6L343.5,91.5L343.8,94.2L344.0,96.8L344.2,99.4L344.5,101.9L344.7,104.3L344.9,106.7L345.1,109.1L345.3,111.4L345.4,113.7L345.6,115.9L345.8,118.2L345.9,120.4L346.1,122.6L346.2,124.9L346.4,127.1L346.5,129.4L346.6,131.7L346.8,134.0L346.9,136.3L347.0,138.7L347.1,141.0L347.2,143.4L347.3,145.8L347.4,148.2L347.5,150.6L347.6,153.0L347.7,155.5L347.8,157.9L347.9,160.4L348.0,162.8L348.1,165.3L348.2,167.8L348.3,170.3L348.4,172.8L348.5,175.3L348.6,177.8L348.7,180.4L348.8,182.9L348.9,185.4L349.0,188.0L349.1,190.5L349.2,193.1L349.3,195.6L349.4,198.2L349.5,200.7L349.6,203.3L349.8,205.9L349.9,208.4L350.0,211.0L350.1,213.6L350.3,216.1L350.4,218.7L350.5,221.2L350.7,223.8L350.8,226.3L351.0,228.9L351.2,231.4L351.3,234.0L351.5,236.5L351.7,239.0L351.9,241.5L352.1,244.0L352.3,246.5L352.5,249.0L352.7,251.5L352.9,254.0L353.1,256.5L353.4,258.9L353.6,261.4L353.9,263.8L354.2,266.3L354.4,268.7L354.7,271.2L355.0,273.6L355.3,276.0L355.6,278.4L356.0,280.9L356.3,283.3L356.7,285.7L357.0,288.1L357.4,290.6L357.8,293.0L358.2,295.4L358.6,297.9L359.0,300.3L359.5,302.7L359.9,305.2L360.4,307.7L360.8,310.1L361.3,312.6L361.8,315.1L362.4,317.6L362.9,320.1L363.4,322.6L364.0,325.1L364.6,327.6L365.2,330.2L365.8,332.8L366.4,335.3L367.1,337.9L367.7,340.5L368.4,343.2L369.1,345.8L369.8,348.3L370.6,350.9L371.4,353.4L372.2,355.8L373.1,358.2L374.0,360.4L375.0,362.6L376.0,364.7L377.1,366.4L378.2,367.7L379.4,368.1L380.6,367.6L381.9,366.4L383.2,364.6L384.6,362.4L385.9,359.9L387.3,357.3L388.6,354.7L390.0,352.1L391.2,349.7L392.5,347.3L393.6,344.9L394.7,342.5L395.7,340.2L396.7,337.8L397.5,335.4L398.3,333.0L399.0,330.6L399.7,328.1L400.3,325.7L400.8,323.3L401.3,320.8L401.8,318.4L402.2,315.9L402.6,313.4L403.0,311.0L403.4,308.5L403.7,306.0L404.1,303.5L404.4,301.0L404.8,298.6L405.1,296.1L405.5,293.6L405.9,291.1L406.3,288.6L406.7,286.2L407.2,283.7L407.7,281.3L408.2,278.8L408.8,276.4L409.5,273.9L410.1,271.5L410.8,269.1L411.6,266.7L412.4,264.3L413.2,261.9L414.0,259.5L414.9,257.1L415.8,254.8L416.7,252.5L417.7,250.1L418.7,247.8L419.7,245.6L420.8,243.3L421.8,241.1L422.9,238.8L424.1,236.6L425.2,234.5L426.4,232.3L427.6,230.2L428.8,228.1L430.0,226.0L431.2,223.9L432.4,221.8L433.7,219.8L435.0,217.8L436.2,215.7L437.5,213.7L438.7,211.7L439.9,209.6L441.2,207.5L442.4,205.4L443.6,203.3L444.7,201.2L445.9,199.0L447.0,196.8L448.1,194.5L449.1,192.2L450.1,189.8L451.1,187.4L452.0,184.9L452.8,182.3L453.6,179.7L454.4,177.0L455.2,174.3L456.0,171.7L456.7,169.0L457.5,166.4L458.3,163.8L459.2,161.3L460.1,158.9L461.1,156.6L462.2,154.4L463.4,152.4L464.7,150.5L466.1,148.9L467.5,147.8L469.0,147.4L470.3,147.9L471.5,149.3L472.7,151.3L473.7,153.8L474.7,156.5L475.6,159.2L476.4,161.9L477.2,164.5L477.8,167.1L478.5,169.7L479.0,172.2L479.5,174.7L480.0,177.3L480.4,179.8L480.8,182.3L481.2,184.9L481.5,187.4L481.8,190.0L482.1,192.6L482.4,195.2L482.7,197.8L482.9,200.4L483.2,203.0L483.5,205.6L483.7,208.2L484.0,210.7L484.2,213.3L484.5,215.8L484.8,218.4L485.0,220.9L485.3,223.4L485.6,226.0L485.8,228.5L486.1,231.0L486.4,233.5L486.6,236.0L486.9,238.5L487.1,241.0L487.4,243.5L487.7,245.9L487.9,248.4L488.2,250.9L488.5,253.3L488.7,255.8L489.0,258.3L489.3,260.7L489.5,263.2L489.8,265.6L490.1,268.0L490.3,270.5L490.6,272.9L490.9,275.4L491.1,277.8L491.4,280.2L491.7,282.6L491.9,285.1L492.2,287.5L492.5,289.9L492.7,292.3L493.0,294.8L493.3,297.2L493.5,299.6L493.8,302.0L494.0,304.4L494.3,306.9L494.6,309.3L494.8,311.7L495.1,314.1L495.4,316.5L495.6,319.0L495.9,321.4L496.1,323.8L496.4,326.2L496.7,328.7L496.9,331.1L497.2,333.5L497.5,336.0L497.7,338.4L498.0,340.9L498.2,343.3L498.5,345.7L498.8,348.2L499.0,350.6L499.3,353.1L499.5,355.6L499.8,358.0L500.0,360.5L500.3,362.9L500.6,365.4L500.8,367.9L501.1,370.4L501.3,372.8L501.6,375.3L501.9,377.8L502.1,380.3L502.4,382.8L502.6,385.2L502.9,387.7L503.2,390.2L503.4,392.7L503.7,395.2L503.9,397.7L504.2,400.2L504.5,402.7L504.7,405.2L505.0,407.7L505.3,410.2L505.5,412.7L505.8,415.2L506.1,417.7L506.3,420.2L506.6,422.8L506.9,425.3L507.2,427.8L507.4,430.3L507.7,432.8L508.0,435.3L508.3,437.8L508.5,440.4L508.8,442.9L509.1,445.4L509.4,447.9L509.7,450.4L510.0,453.0L510.3,455.5L510.6,458.0L510.8,460.5L511.1,463.1L511.4,465.6L511.7,468.1L512.0,470.6L512.3,473.2L512.7,475.7L513.0,478.2L513.3,480.7L513.6,483.2L513.9,485.8L514.2,488.3L514.5,490.8L514.9,493.3L515.2,495.9L515.5,498.4L515.8,500.9L516.2,503.4L516.5,506.0L516.8,508.5L517.2,511.0L517.5,513.5L517.9,516.0L518.2,518.6L518.6,521.1L518.9,523.6L519.3,526.1L519.6,528.6L520.0,531.1L520.4,533.6L520.7,536.1L521.1,538.7L521.5,541.2L521.9,543.7L522.2,546.2L522.6,548.7L523.0,551.2L523.4,553.7L523.8,556.2L524.2,558.7L524.6,561.2L525.0,563.7L525.4,566.2L525.9,568.6L526.3,571.1L526.7,573.6L527.1,576.1L527.6,578.6L528.0,581.1L528.5,583.5L528.9,586.0L529.4,588.5L529.8,590.9L530.3,593.4L530.8,595.9L531.2,598.3L531.7,600.8L532.2,603.3L532.7,605.7L533.2,608.2L533.7,610.6L534.3,613.1L534.8,615.5L535.3,617.9L535.9,620.4L536.4,622.8L537.0,625.2L537.5,627.7L538.1,630.1L538.7,632.5L539.3,634.9L539.9,637.3L540.5,639.7L541.1,642.1L541.7,644.5L542.3,646.9L543.0,649.3L543.6,651.7L544.3,654.1L545.0,656.5L545.6,658.9L546.3,661.3L547.0,663.6L547.7,666.0L548.5,668.4L549.2,670.7L549.9,673.1L550.7,675.4L551.5,677.8L552.2,680.1L553.0,682.4L553.8,684.8L554.6,687.1L555.5,689.4L556.3,691.7L557.2,694.0L558.0,696.4L558.9,698.7L559.8,701.0L560.7,703.3L561.6,705.5L562.5,707.8L563.4,710.1L564.4,712.4L565.4,714.6L566.3,716.9L567.3,719.2L568.3,721.4L569.4,723.7L570.4,725.9L571.5,728.1L572.5,730.4L573.6,732.6L574.7,734.8L575.8,737.0L576.9,739.2L578.0,741.4L579.2,743.6L580.3,745.8L581.5,748.0L582.7,750.2L583.9,752.3L585.1,754.5L586.3,756.6L587.6,758.8L588.8,760.9L590.1,763.1L591.3,765.2L592.6,767.3L593.9,769.5L595.2,771.6L596.6,773.7L597.9,775.8L599.3,777.9L600.6,780.0L602.0,782.0L603.4,784.1L604.8,786.2L606.2,788.2L607.6,790.3L609.0,792.3L610.5,794.4L611.9,796.4L613.4,798.4L614.9,800.4L616.4,802.5L617.9,804.5L619.4,806.4L620.9,808.4L622.4,810.4L624.0,812.4L625.5,814.4L627.1,816.3L628.7,818.3L630.2,820.2L631.8,822.1L633.5,824.1L635.1,826.0L636.7,827.9L638.3,829.8L640.0,831.7L641.6,833.6L643.3,835.5L645.0,837.3L646.7,839.2L648.4,841.1L650.1,842.9L651.8,844.8L653.5,846.6L655.3,848.4L657.0,850.2L658.8,852.0L660.5,853.8L662.3,855.6L664.1,857.4L665.9,859.2L667.7,860.9L669.5,862.7L671.3,864.4L673.1,866.2L675.0,867.9L676.8,869.6L678.7,871.3L680.5,873.0L682.4,874.7L684.3,876.4L686.2,878.1L688.1,879.8L690.0,881.4L691.9,883.1L693.8,884.7L695.7,886.3L697.7,888.0L699.6,889.6L701.5,891.2L703.5,892.8L705.5,894.3L707.4,895.9L709.4,897.5L711.4,899.0L713.4,900.6L715.4,902.1L717.4,903.6L719.4,905.2L721.4,906.7L723.5,908.2L725.5,909.6L727.5,911.1L729.6,912.6L731.7,914.0L733.7,915.5L735.8,916.9L737.9,918.3L739.9,919.8L742.0,921.2L744.1,922.5L746.2,923.9L748.3,925.3L750.4,926.7L752.5,928.0L754.7,929.4L756.8,930.7L758.9,932.0L761.1,933.3L763.2,934.6L765.3,935.9L767.5,937.2L769.7,938.4L771.8,939.7L774.0,940.9L776.2,942.2L778.3,943.4L780.5,944.6L782.7,945.8L784.9,947.0L787.1,948.2L789.3,949.3L791.5,950.5L793.7,951.6L795.9,952.7L798.2,953.9L800.4,955.0L802.6,956.1L804.8,957.2L807.1,958.2L809.3,959.3L811.6,960.3L813.8,961.4L816.0,962.4L818.3,963.4L820.6,964.4L822.8,965.4L825.1,966.4L827.4,967.4L829.6,968.4L831.9,969.4L834.2,970.3L836.5,971.3L838.8,972.2L841.0,973.1L843.3,974.0L845.6,975.0L847.9,975.9L850.2,976.8L852.6,977.7L854.9,978.5L857.2,979.4L859.5,980.3L861.8,981.1L864.1,982.0L866.5,982.8L868.8,983.7L871.1,984.5L873.5,985.4L875.8,986.2L878.1,987.0L880.5,987.8L882.8,988.6L885.2,989.4L887.5,990.2L889.9,991.0L892.3,991.8L894.6,992.6L897.0,993.4L899.3,994.1L901.7,994.9L904.1,995.7L906.5,996.4L908.8,997.2L911.2,998.0L913.6,998.7L916.0,999.5L918.4,1000.2L920.8,1001.0L923.2,1001.7L925.5,1002.5L927.9,1003.2L930.3,1003.9L932.7,1004.7L935.1,1005.4L937.5,1006.1L940.0,1006.9L942.4,1007.6L944.8,1008.3L947.2,1009.0L949.6,1009.7L952.0,1010.4L954.4,1011.1L956.9,1011.8L959.3,1012.5L961.7,1013.2L964.1,1013.9L966.6,1014.6L969.0,1015.3L971.4,1016.0L973.8,1016.7L976.3,1017.4L978.7,1018.0L981.1,1018.7L983.6,1019.4L986.0,1020.0L988.5,1020.7L990.9,1021.3L993.4,1022.0L995.8,1022.6L998.2,1023.3L1000.7,1023.9L1003.1,1024.6L1005.6,1025.2L1008.0,1025.8L1010.5,1026.4L1012.9,1027.0L1015.4,1027.7L1017.9,1028.3L1020.3,1028.9L1022.8,1029.5L1025.2,1030.1L1027.7,1030.7L1030.1,1031.2L1032.6,1031.8L1035.1,1032.4L1037.5,1033.0L1040.0,1033.5L1042.4,1034.1L1044.9,1034.7L1047.4,1035.2L1049.8,1035.7L1052.3,1036.3L1054.8,1036.8L1057.2,1037.4L1059.7,1037.9L1062.2,1038.4L1064.6,1038.9L1067.1,1039.4L1069.6,1039.9L1072.0,1040.4L1074.5,1040.9L1077.0,1041.4L1079.4,1041.9L1081.9,1042.4L1084.4,1042.8L1086.8,1043.3L1089.3,1043.8L1091.8,1044.2L1094.3,1044.7L1096.7,1045.1L1099.2,1045.5L1101.7,1046.0L1104.1,1046.4L1106.6,1046.8L1109.1,1047.2L1111.5,1047.6L1114.0,1048.0L1116.5,1048.4L1118.9,1048.8L1121.4,1049.2L1123.9,1049.5L1126.3,1049.9L1128.8,1050.3L1131.2,1050.6L1133.7,1051.0L1136.2,1051.3L1138.6,1051.6L1141.1,1052.0L1143.6,1052.3L1146.0,1052.6L1148.5,1052.9L1150.9,1053.2L1153.4,1053.5L1155.8,1053.8L1158.3,1054.0L1160.7,1054.3L1163.2,1054.6L1165.6,1054.8L1168.1,1055.1L1170.5,1055.3L1173.0,1055.5L1175.4,1055.8L1177.9,1056.0L1180.3,1056.2L1182.8,1056.4" fill="none" stroke="#00f" stroke-width="4.8" stroke-linejoin="round" stroke-linecap="round"/>
<line x1="1003.2" y1="807.5" x2="1115.7" y2="807.5" stroke="#000" stroke-width="5.6"/>
<text x="1125.5" y="824.0" font-size="49" font-weight="bold">12</text>
<line x1="1003.2" y1="868.6" x2="1115.7" y2="868.6" stroke="#f00" stroke-width="5.6"/>
<text x="1125.5" y="885.1" font-size="49" font-weight="bold">13</text>
<line x1="1003.2" y1="929.7" x2="1115.7" y2="929.7" stroke="#00f" stroke-width="5.6"/>
<text x="1125.5" y="946.2" font-size="49" font-weight="bold">14</text>
<line x1="1414.4" y1="33.5" x2="1414.4" y2="1059.2" stroke="#000" stroke-width="4.5"/>
<line x1="1394.4" y1="1057.0" x2="2388.2" y2="1057.0" stroke="#000" stroke-width="4.5"/>
<line x1="1394.4" y1="1057.0" x2="1414.4" y2="1057.0" stroke="#000" stroke-width="4.5"/>
<line x1="1403.4" y1="955.8" x2="1414.4" y2="955.8" stroke="#000" stroke-width="4.5"/>
<line x1="1394.4" y1="854.6" x2="1414.4" y2="854.6" stroke="#000" stroke-width="4.5"/>
<line x1="1403.4" y1="753.4" x2="1414.4" y2="753.4" stroke="#000" stroke-width="4.5"/>
<line x1="1394.4" y1="652.2" x2="1414.4" y2="652.2" stroke="#000" stroke-width="4.5"/>
<line x1="1403.4" y1="551.0" x2="1414.4" y2="551.0" stroke="#000" stroke-width="4.5"/>
<line x1="1394.4" y1="449.8" x2="1414.4" y2="449.8" stroke="#000" stroke-width="4.5"/>
<line x1="1403.4" y1="348.6" x2="1414.4" y2="348.6" stroke="#000" stroke-width="4.5"/>
<line x1="1394.4" y1="247.4" x2="1414.4" y2="247.4" stroke="#000" stroke-width="4.5"/>
<line x1="1403.4" y1="146.2" x2="1414.4" y2="146.2" stroke="#000" stroke-width="4.5"/>
<line x1="1394.4" y1="45.0" x2="1414.4" y2="45.0" stroke="#000" stroke-width="4.5"/>
<line x1="1457.3" y1="1057.0" x2="1457.3" y2="1067.0" stroke="#000" stroke-width="4.5"/>
<line x1="1528.7" y1="1057.0" x2="1528.7" y2="1078.0" stroke="#000" stroke-width="4.5"/>
<line x1="1600.1" y1="1057.0" x2="1600.1" y2="1067.0" stroke="#000" stroke-width="4.5"/>
<line x1="1671.5" y1="1057.0" x2="1671.5" y2="1078.0" stroke="#000" stroke-width="4.5"/>
<line x1="1743.0" y1="1057.0" x2="1743.0" y2="1067.0" stroke="#000" stroke-width="4.5"/>
<line x1="1814.4" y1="1057.0" x2="1814.4" y2="1078.0" stroke="#000" stroke-width="4.5"/>
<line x1="1885.8" y1="1057.0" x2="1885.8" y2="1067.0" stroke="#000" stroke-width="4.5"/>
<line x1="1957.2" y1="1057.0" x2="1957.2" y2="1078.0" stroke="#000" stroke-width="4.5"/>
<line x1="2028.7" y1="1057.0" x2="2028.7" y2="1067.0" stroke="#000" stroke-width="4.5"/>
<line x1="2100.1" y1="1057.0" x2="2100.1" y2="1078.0" stroke="#000" stroke-width="4.5"/>
<line x1="2171.5" y1="1057.0" x2="2171.5" y2="1067.0" stroke="#000" stroke-width="4.5"/>
<line x1="2242.9" y1="1057.0" x2="2242.9" y2="1078.0" stroke="#000" stroke-width="4.5"/>
<line x1="2314.4" y1="1057.0" x2="2314.4" y2="1067.0" stroke="#000" stroke-width="4.5"/>
<line x1="2385.8" y1="1057.0" x2="2385.8" y2="1078.0" stroke="#000" stroke-width="4.5"/>
<text transform="translate(1381.9,1071.0) scale(1.0,1)" text-anchor="end" font-size="53.5">0.0</text>
<text transform="translate(1381.9,868.6) scale(1.0,1)" text-anchor="end" font-size="53.5">0.2</text>
<text transform="translate(1381.9,666.2) scale(1.0,1)" text-anchor="end" font-size="53.5">0.4</text>
<text transform="translate(1381.9,463.8) scale(1.0,1)" text-anchor="end" font-size="53.5">0.6</text>
<text transform="translate(1381.9,261.4) scale(1.0,1)" text-anchor="end" font-size="53.5">0.8</text>
<text transform="translate(1381.9,59.0) scale(1.0,1)" text-anchor="end" font-size="53.5">1.0</text>
<text transform="translate(1529.4,1132.0) scale(0.95,1)" text-anchor="middle" font-size="53.5" letter-spacing="1.5">300</text>
<text transform="translate(1672.2,1132.0) scale(0.95,1)" text-anchor="middle" font-size="53.5" letter-spacing="1.5">350</text>
<text transform="translate(1815.1,1132.0) scale(0.95,1)" text-anchor="middle" font-size="53.5" letter-spacing="1.5">400</text>
<text transform="translate(1957.9,1132.0) scale(0.95,1)" text-anchor="middle" font-size="53.5" letter-spacing="1.5">450</text>
<text transform="translate(2100.8,1132.0) scale(0.95,1)" text-anchor="middle" font-size="53.5" letter-spacing="1.5">500</text>
<text transform="translate(2243.6,1132.0) scale(0.95,1)" text-anchor="middle" font-size="53.5" letter-spacing="1.5">550</text>
<text transform="translate(2386.5,1132.0) scale(0.95,1)" text-anchor="middle" font-size="53.5" letter-spacing="1.5">600</text>
<text x="1686.9" y="1228.5" font-size="62" textLength="429" lengthAdjust="spacing">Wavelength (nm)</text>
<text transform="translate(1270.9,882.3) rotate(-90)" x="0" y="0" font-size="62" textLength="592" lengthAdjust="spacing">Normalized absorbance</text>
<text x="1454.5" y="1001.0" font-size="70">(b)</text>
<path d="M1414.7,481.0L1415.4,485.6L1416.2,489.7L1417.1,493.1L1418.0,496.0L1419.0,498.3L1420.0,499.9L1421.1,501.0L1422.2,501.4L1423.3,501.2L1424.4,500.4L1425.5,499.0L1426.6,497.2L1427.7,495.1L1428.8,492.7L1429.8,490.1L1430.8,487.6L1431.7,485.0L1432.6,482.5L1433.5,480.0L1434.3,477.5L1435.1,474.9L1435.8,472.4L1436.5,469.9L1437.2,467.4L1437.9,464.9L1438.5,462.4L1439.0,459.9L1439.6,457.4L1440.1,454.9L1440.6,452.4L1441.1,449.9L1441.5,447.5L1441.9,445.0L1442.3,442.5L1442.7,440.0L1443.1,437.6L1443.4,435.1L1443.7,432.6L1444.1,430.2L1444.4,427.7L1444.6,425.2L1444.9,422.8L1445.2,420.3L1445.4,417.8L1445.7,415.4L1445.9,412.9L1446.2,410.4L1446.4,408.0L1446.7,405.5L1446.9,403.0L1447.2,400.6L1447.4,398.1L1447.7,395.6L1447.9,393.2L1448.2,390.7L1448.4,388.2L1448.7,385.7L1448.9,383.3L1449.2,380.8L1449.5,378.3L1449.7,375.8L1450.0,373.3L1450.3,370.8L1450.6,368.4L1450.9,365.9L1451.1,363.4L1451.4,360.9L1451.7,358.4L1452.0,355.9L1452.3,353.4L1452.6,351.0L1452.9,348.5L1453.2,346.0L1453.5,343.5L1453.8,341.0L1454.0,338.5L1454.3,336.0L1454.6,333.5L1454.9,331.0L1455.3,328.5L1455.6,326.0L1455.9,323.5L1456.2,321.1L1456.5,318.6L1456.8,316.1L1457.1,313.6L1457.4,311.1L1457.7,308.6L1458.0,306.1L1458.3,303.6L1458.6,301.1L1458.9,298.6L1459.2,296.1L1459.5,293.7L1459.8,291.2L1460.1,288.7L1460.4,286.2L1460.7,283.7L1461.0,281.2L1461.3,278.7L1461.6,276.2L1461.9,273.8L1462.2,271.3L1462.5,268.8L1462.8,266.3L1463.1,263.8L1463.4,261.4L1463.7,258.9L1464.0,256.4L1464.3,253.9L1464.6,251.5L1464.9,249.0L1465.1,246.5L1465.4,244.1L1465.7,241.6L1466.0,239.1L1466.3,236.7L1466.5,234.2L1466.8,231.7L1467.1,229.3L1467.4,226.8L1467.7,224.3L1468.0,221.9L1468.2,219.4L1468.5,216.9L1468.8,214.5L1469.1,212.0L1469.4,209.5L1469.7,207.1L1470.0,204.6L1470.3,202.1L1470.6,199.7L1470.9,197.2L1471.2,194.7L1471.5,192.2L1471.8,189.8L1472.1,187.3L1472.4,184.8L1472.7,182.3L1473.1,179.9L1473.4,177.4L1473.7,174.9L1474.0,172.4L1474.4,169.9L1474.7,167.4L1475.1,164.9L1475.4,162.5L1475.8,160.0L1476.1,157.5L1476.5,155.0L1476.9,152.5L1477.3,150.0L1477.6,147.5L1478.0,144.9L1478.4,142.4L1478.8,139.9L1479.2,137.4L1479.6,134.9L1480.1,132.4L1480.5,129.8L1480.9,127.3L1481.4,124.8L1481.8,122.4L1482.3,119.9L1482.7,117.4L1483.2,115.0L1483.7,112.5L1484.2,110.1L1484.7,107.8L1485.2,105.4L1485.7,103.1L1486.2,100.8L1486.7,98.5L1487.3,96.3L1487.8,94.0L1488.4,91.7L1488.9,89.5L1489.5,87.1L1490.1,84.8L1490.7,82.3L1491.3,79.8L1491.9,77.2L1492.6,74.5L1493.2,71.7L1493.9,68.7L1494.5,65.6L1495.2,62.5L1495.9,59.5L1496.6,56.5L1497.4,53.8L1498.2,51.3L1499.0,49.1L1499.9,47.4L1500.8,46.1L1501.8,45.4L1502.8,45.4L1503.9,46.0L1505.1,47.2L1506.2,48.9L1507.4,51.0L1508.7,53.5L1509.9,56.3L1511.2,59.1L1512.4,62.1L1513.7,64.9L1515.0,67.6L1516.3,70.1L1517.6,72.5L1518.8,74.7L1520.1,76.9L1521.3,79.0L1522.5,81.1L1523.6,83.2L1524.8,85.3L1525.9,87.4L1526.9,89.6L1527.9,91.8L1529.0,94.0L1529.9,96.3L1530.9,98.5L1531.8,100.8L1532.7,103.2L1533.5,105.5L1534.4,107.8L1535.2,110.2L1536.0,112.6L1536.7,115.0L1537.5,117.4L1538.2,119.8L1538.9,122.2L1539.6,124.7L1540.2,127.1L1540.9,129.6L1541.5,132.1L1542.1,134.5L1542.7,137.0L1543.3,139.5L1543.9,142.0L1544.4,144.4L1545.0,146.9L1545.5,149.4L1546.0,151.9L1546.5,154.3L1547.0,156.8L1547.5,159.3L1548.1,161.7L1548.6,164.2L1549.1,166.6L1549.6,169.0L1550.0,171.4L1550.6,173.8L1551.1,176.2L1551.6,178.6L1552.1,180.9L1552.6,183.3L1553.1,185.6L1553.7,188.0L1554.2,190.3L1554.7,192.6L1555.3,195.0L1555.9,197.3L1556.5,199.6L1557.1,202.0L1557.7,204.4L1558.3,206.7L1558.9,209.1L1559.6,211.6L1560.2,214.0L1560.9,216.5L1561.6,218.9L1562.3,221.5L1563.0,224.0L1563.8,226.6L1564.5,229.2L1565.3,231.8L1566.1,234.5L1567.0,237.3L1567.8,240.0L1568.7,242.8L1569.6,245.6L1570.5,248.3L1571.5,251.0L1572.5,253.6L1573.5,256.0L1574.5,258.3L1575.6,260.4L1576.7,262.4L1577.8,264.0L1579.0,265.3L1580.1,266.1L1581.4,266.3L1582.6,266.0L1583.9,265.2L1585.2,263.9L1586.4,262.2L1587.7,260.1L1589.0,257.8L1590.2,255.2L1591.4,252.4L1592.5,249.5L1593.6,246.5L1594.7,243.5L1595.6,240.5L1596.5,237.6L1597.3,234.9L1598.0,232.3L1598.6,229.9L1599.2,227.6L1599.7,225.4L1600.2,223.2L1600.7,221.0L1601.2,218.8L1601.7,216.6L1602.2,214.3L1602.8,211.8L1603.4,209.2L1604.2,206.5L1605.0,203.7L1605.8,200.8L1606.8,198.0L1607.8,195.1L1608.9,192.4L1610.0,189.8L1611.3,187.3L1612.6,185.0L1613.9,183.0L1615.3,181.3L1616.8,180.0L1618.4,179.0L1620.0,178.5L1621.7,178.4L1623.5,178.8L1625.3,179.5L1627.1,180.7L1629.0,182.2L1630.8,183.9L1632.7,185.9L1634.6,188.0L1636.5,190.3L1638.4,192.6L1640.2,195.0L1642.0,197.3L1643.7,199.6L1645.4,201.8L1647.0,204.1L1648.5,206.3L1649.9,208.5L1651.2,210.7L1652.4,212.9L1653.5,215.2L1654.5,217.5L1655.5,219.8L1656.3,222.1L1657.1,224.4L1657.8,226.7L1658.4,229.0L1659.0,231.4L1659.5,233.7L1660.0,236.1L1660.4,238.5L1660.8,240.8L1661.2,243.2L1661.5,245.6L1661.8,248.0L1662.1,250.4L1662.4,252.8L1662.7,255.2L1663.0,257.7L1663.3,260.1L1663.6,262.5L1664.0,264.9L1664.3,267.4L1664.6,269.8L1664.9,272.2L1665.2,274.7L1665.5,277.1L1665.8,279.5L1666.1,282.0L1666.4,284.4L1666.7,286.9L1667.0,289.4L1667.3,291.8L1667.6,294.3L1667.9,296.7L1668.2,299.2L1668.5,301.7L1668.8,304.1L1669.1,306.6L1669.4,309.1L1669.7,311.6L1670.1,314.1L1670.4,316.5L1670.7,319.0L1671.0,321.5L1671.3,324.0L1671.5,326.5L1671.8,329.0L1672.1,331.5L1672.4,334.0L1672.7,336.5L1673.0,339.0L1673.3,341.5L1673.6,344.0L1673.9,346.5L1674.2,349.0L1674.5,351.5L1674.7,354.0L1675.0,356.5L1675.3,359.0L1675.6,361.6L1675.9,364.1L1676.1,366.6L1676.4,369.1L1676.7,371.6L1676.9,374.1L1677.2,376.7L1677.5,379.2L1677.7,381.7L1678.0,384.2L1678.2,386.7L1678.5,389.3L1678.7,391.8L1679.0,394.3L1679.2,396.8L1679.5,399.4L1679.7,401.9L1680.0,404.4L1680.2,407.0L1680.4,409.5L1680.7,412.0L1680.9,414.5L1681.1,417.1L1681.3,419.6L1681.5,422.1L1681.8,424.7L1682.0,427.2L1682.2,429.7L1682.4,432.2L1682.6,434.8L1682.8,437.3L1683.0,439.8L1683.2,442.3L1683.3,444.9L1683.5,447.4L1683.7,449.9L1683.9,452.4L1684.1,455.0L1684.2,457.5L1684.4,460.0L1684.6,462.5L1684.7,465.1L1684.9,467.6L1685.1,470.1L1685.2,472.6L1685.4,475.1L1685.6,477.6L1685.7,480.2L1685.9,482.7L1686.1,485.2L1686.2,487.7L1686.4,490.2L1686.6,492.7L1686.8,495.2L1686.9,497.7L1687.1,500.2L1687.3,502.7L1687.5,505.2L1687.7,507.7L1687.9,510.2L1688.1,512.7L1688.3,515.2L1688.5,517.7L1688.7,520.2L1688.9,522.7L1689.1,525.2L1689.4,527.7L1689.6,530.1L1689.9,532.6L1690.1,535.1L1690.4,537.6L1690.6,540.0L1690.9,542.5L1691.2,545.0L1691.5,547.4L1691.7,549.9L1692.1,552.4L1692.4,554.8L1692.7,557.3L1693.0,559.7L1693.4,562.2L1693.7,564.6L1694.1,567.0L1694.4,569.5L1694.8,571.9L1695.2,574.4L1695.6,576.8L1696.0,579.2L1696.5,581.6L1696.9,584.1L1697.4,586.5L1697.8,588.9L1698.3,591.3L1698.8,593.7L1699.3,596.1L1699.8,598.5L1700.4,600.9L1700.9,603.3L1701.5,605.7L1702.1,608.1L1702.7,610.4L1703.3,612.8L1703.9,615.2L1704.6,617.5L1705.2,619.9L1705.9,622.3L1706.6,624.6L1707.3,627.0L1708.0,629.3L1708.8,631.7L1709.5,634.0L1710.3,636.3L1711.1,638.7L1711.9,641.0L1712.7,643.3L1713.6,645.6L1714.4,647.9L1715.3,650.3L1716.2,652.6L1717.1,654.9L1718.0,657.2L1718.9,659.5L1719.9,661.8L1720.8,664.1L1721.8,666.4L1722.8,668.6L1723.7,670.9L1724.7,673.2L1725.7,675.5L1726.8,677.8L1727.8,680.0L1728.8,682.3L1729.9,684.6L1730.9,686.9L1732.0,689.1L1733.1,691.4L1734.1,693.7L1735.2,695.9L1736.3,698.2L1737.4,700.4L1738.5,702.7L1739.7,704.9L1740.8,707.2L1741.9,709.5L1743.0,711.7L1744.2,714.0L1745.3,716.2L1746.5,718.5L1747.6,720.7L1748.8,723.0L1749.9,725.2L1751.1,727.5L1752.3,729.7L1753.4,731.9L1754.6,734.2L1755.8,736.4L1756.9,738.7L1758.1,740.9L1759.3,743.2L1760.5,745.4L1761.6,747.7L1762.8,749.9L1764.0,752.2L1765.1,754.4L1766.3,756.7L1767.5,758.9L1768.6,761.2L1769.8,763.4L1770.9,765.7L1772.1,767.9L1773.2,770.2L1774.4,772.5L1775.5,774.7L1776.6,777.0L1777.7,779.2L1778.9,781.5L1780.0,783.8L1781.1,786.0L1782.1,788.3L1783.2,790.6L1784.3,792.9L1785.3,795.1L1786.4,797.4L1787.4,799.7L1788.5,802.0L1789.5,804.3L1790.5,806.6L1791.5,808.8L1792.4,811.1L1793.4,813.4L1794.4,815.7L1795.3,818.0L1796.2,820.3L1797.1,822.7L1798.0,825.0L1798.9,827.3L1799.8,829.6L1800.6,831.9L1801.4,834.3L1802.2,836.6L1803.0,838.9L1803.8,841.3L1804.5,843.6L1805.3,846.0L1806.0,848.3L1806.7,850.7L1807.4,853.0L1808.1,855.4L1808.7,857.8L1809.4,860.1L1810.0,862.5L1810.7,864.9L1811.3,867.2L1811.9,869.6L1812.5,872.0L1813.2,874.4L1813.8,876.8L1814.4,879.1L1815.0,881.5L1815.6,883.9L1816.2,886.3L1816.9,888.7L1817.5,891.1L1818.1,893.4L1818.7,895.8L1819.4,898.2L1820.0,900.6L1820.7,903.0L1821.4,905.4L1822.1,907.8L1822.8,910.1L1823.5,912.5L1824.2,914.9L1825.0,917.3L1825.7,919.7L1826.5,922.0L1827.3,924.4L1828.2,926.8L1829.0,929.2L1829.9,931.5L1830.8,933.9L1831.7,936.3L1832.6,938.6L1833.6,941.0L1834.6,943.3L1835.6,945.7L1836.7,948.0L1837.7,950.3L1838.8,952.7L1840.0,955.0L1841.1,957.3L1842.3,959.6L1843.6,962.0L1844.8,964.2L1846.1,966.5L1847.4,968.8L1848.8,971.0L1850.2,973.2L1851.6,975.4L1853.0,977.6L1854.4,979.8L1855.9,981.9L1857.4,984.0L1859.0,986.1L1860.5,988.1L1862.1,990.1L1863.8,992.1L1865.4,994.0L1867.1,995.9L1868.8,997.7L1870.5,999.5L1872.2,1001.3L1874.0,1003.0L1875.8,1004.7L1877.6,1006.3L1879.5,1007.9L1881.3,1009.4L1883.2,1010.9L1885.2,1012.3L1887.1,1013.6L1889.1,1015.0L1891.0,1016.2L1893.1,1017.4L1895.1,1018.6L1897.1,1019.8L1899.2,1020.8L1901.3,1021.9L1903.4,1022.9L1905.6,1023.9L1907.7,1024.8L1909.9,1025.7L1912.1,1026.5L1914.4,1027.4L1916.6,1028.2L1918.9,1028.9L1921.2,1029.6L1923.5,1030.3L1925.8,1031.0L1928.1,1031.6L1930.5,1032.2L1932.9,1032.8L1935.3,1033.4L1937.7,1033.9L1940.1,1034.4L1942.5,1034.9L1945.0,1035.4L1947.4,1035.8L1949.9,1036.2L1952.4,1036.6L1954.9,1037.0L1957.4,1037.3L1959.9,1037.7L1962.5,1038.0L1965.0,1038.3L1967.5,1038.6L1970.1,1038.8L1972.7,1039.1L1975.2,1039.3L1977.8,1039.5L1980.4,1039.8L1983.0,1039.9L1985.6,1040.1L1988.1,1040.3L1990.7,1040.5L1993.3,1040.6L1995.9,1040.8L1998.5,1040.9L2001.1,1041.1L2003.7,1041.2L2006.3,1041.3L2008.9,1041.4L2011.5,1041.5L2014.1,1041.6L2016.7,1041.7L2019.3,1041.8L2021.9,1041.9L2024.5,1042.0L2027.0,1042.2L2029.6,1042.3L2032.2,1042.4L2034.7,1042.5L2037.3,1042.6L2039.8,1042.7L2042.3,1042.8L2044.9,1042.9L2047.4,1043.1L2049.9,1043.2L2052.4,1043.3L2054.9,1043.5L2057.4,1043.6L2059.9,1043.7L2062.3,1043.9L2064.8,1044.0L2067.3,1044.2L2069.7,1044.3L2072.2,1044.5L2074.7,1044.6L2077.1,1044.8L2079.6,1044.9L2082.0,1045.1L2084.5,1045.2L2086.9,1045.4L2089.4,1045.5L2091.8,1045.7L2094.2,1045.8L2096.7,1046.0L2099.1,1046.1L2101.5,1046.3L2104.0,1046.4L2106.4,1046.6L2108.9,1046.7L2111.3,1046.9L2113.7,1047.0L2116.2,1047.2L2118.6,1047.3L2121.1,1047.5L2123.5,1047.6L2126.0,1047.8L2128.4,1047.9L2130.9,1048.0L2133.3,1048.2L2135.8,1048.3L2138.3,1048.4L2140.7,1048.5L2143.2,1048.7L2145.7,1048.8L2148.2,1048.9L2150.6,1049.0L2153.1,1049.1L2155.6,1049.3L2158.1,1049.4L2160.6,1049.5L2163.1,1049.6L2165.6,1049.7L2168.1,1049.8L2170.6,1049.9L2173.1,1050.0L2175.6,1050.1L2178.1,1050.2L2180.6,1050.3L2183.1,1050.4L2185.6,1050.5L2188.1,1050.5L2190.7,1050.6L2193.2,1050.7L2195.7,1050.8L2198.2,1050.9L2200.7,1051.0L2203.2,1051.1L2205.8,1051.1L2208.3,1051.2L2210.8,1051.3L2213.3,1051.4L2215.9,1051.4L2218.4,1051.5L2220.9,1051.6L2223.4,1051.7L2226.0,1051.7L2228.5,1051.8L2231.0,1051.9L2233.5,1051.9L2236.1,1052.0L2238.6,1052.1L2241.1,1052.1L2243.6,1052.2L2246.1,1052.3L2248.7,1052.3L2251.2,1052.4L2253.7,1052.5L2256.2,1052.5L2258.7,1052.6L2261.3,1052.7L2263.8,1052.7L2266.3,1052.8L2268.8,1052.9L2271.3,1052.9L2273.8,1053.0L2276.3,1053.0L2278.8,1053.1L2281.3,1053.2L2283.8,1053.2L2286.3,1053.3L2288.8,1053.3L2291.3,1053.4L2293.8,1053.5L2296.3,1053.5L2298.8,1053.6L2301.3,1053.7L2303.8,1053.7L2306.3,1053.8L2308.7,1053.8L2311.2,1053.9L2313.7,1054.0L2316.2,1054.0L2318.6,1054.1L2321.1,1054.2L2323.5,1054.2L2326.0,1054.3" fill="none" stroke="#000" stroke-width="4.8" stroke-linejoin="round" stroke-linecap="round"/>
<path d="M1414.7,212.0L1415.1,214.5L1415.6,217.0L1416.0,219.5L1416.5,221.9L1416.9,224.3L1417.4,226.8L1417.8,229.2L1418.3,231.6L1418.8,234.0L1419.3,236.4L1419.7,238.8L1420.2,241.3L1420.7,243.8L1421.1,246.3L1421.6,248.8L1422.0,251.3L1422.4,253.9L1422.8,256.4L1423.2,259.0L1423.6,261.5L1424.0,264.1L1424.3,266.6L1424.6,269.1L1424.9,271.6L1425.2,274.1L1425.4,276.6L1425.7,279.0L1425.9,281.5L1426.1,283.9L1426.3,286.3L1426.5,288.7L1426.7,291.1L1427.0,293.5L1427.2,295.9L1427.4,298.3L1427.6,300.7L1427.9,303.1L1428.1,305.5L1428.4,307.9L1428.7,310.4L1429.0,312.8L1429.4,315.2L1429.8,317.7L1430.2,320.1L1430.7,322.6L1431.2,325.1L1431.7,327.6L1432.3,330.1L1433.0,332.7L1433.7,335.3L1434.4,337.9L1435.2,340.5L1436.1,343.2L1437.0,345.8L1438.0,348.6L1439.1,351.3L1440.3,354.1L1441.5,356.8L1442.7,359.4L1444.0,361.7L1445.3,363.7L1446.5,365.2L1447.8,366.2L1449.0,366.7L1450.2,366.6L1451.4,366.1L1452.5,365.2L1453.6,363.9L1454.7,362.2L1455.7,360.3L1456.7,358.1L1457.7,355.6L1458.6,353.0L1459.5,350.2L1460.4,347.4L1461.2,344.4L1462.0,341.5L1462.8,338.5L1463.5,335.6L1464.2,332.7L1464.9,329.9L1465.5,327.1L1466.1,324.4L1466.7,321.6L1467.3,318.9L1467.8,316.3L1468.3,313.7L1468.8,311.1L1469.3,308.5L1469.8,306.0L1470.2,303.4L1470.7,300.9L1471.1,298.5L1471.5,296.0L1471.9,293.6L1472.3,291.2L1472.7,288.8L1473.2,286.4L1473.6,284.1L1474.0,281.7L1474.4,279.4L1474.8,277.0L1475.2,274.7L1475.7,272.4L1476.1,270.1L1476.6,267.8L1477.0,265.5L1477.5,263.2L1478.0,261.0L1478.6,258.7L1479.1,256.4L1479.7,254.1L1480.3,251.8L1480.9,249.5L1481.6,247.2L1482.2,244.9L1483.0,242.6L1483.7,240.2L1484.5,237.9L1485.3,235.5L1486.1,233.2L1487.0,230.8L1487.9,228.4L1488.8,226.0L1489.7,223.6L1490.6,221.2L1491.6,218.8L1492.5,216.4L1493.4,213.9L1494.3,211.5L1495.3,209.1L1496.2,206.6L1497.0,204.2L1497.9,201.7L1498.8,199.3L1499.6,196.8L1500.4,194.3L1501.1,191.9L1501.8,189.4L1502.5,186.9L1503.2,184.5L1503.8,182.0L1504.3,179.5L1504.8,177.1L1505.3,174.6L1505.8,172.1L1506.3,169.7L1506.7,167.2L1507.1,164.8L1507.6,162.3L1508.0,159.8L1508.4,157.4L1508.8,155.0L1509.2,152.5L1509.7,150.1L1510.1,147.7L1510.6,145.2L1511.1,142.8L1511.6,140.4L1512.2,138.0L1512.8,135.6L1513.4,133.2L1514.1,130.9L1514.8,128.5L1515.5,126.2L1516.4,123.8L1517.3,121.5L1518.2,119.2L1519.2,116.9L1520.3,114.6L1521.5,112.6L1522.7,111.3L1523.9,110.7L1525.1,111.1L1526.4,112.4L1527.7,114.4L1528.9,117.0L1530.1,120.0L1531.4,123.1L1532.7,126.2L1534.0,128.9L1535.4,131.1L1537.0,132.5L1538.6,132.9L1540.4,132.5L1542.2,131.3L1544.1,129.6L1546.0,127.4L1547.8,125.0L1549.6,122.4L1551.4,119.8L1553.2,117.2L1554.9,114.8L1556.6,112.7L1558.3,111.0L1560.0,109.8L1561.6,109.3L1563.2,109.4L1564.7,110.1L1566.2,111.4L1567.7,113.1L1569.1,115.1L1570.5,117.5L1571.9,120.1L1573.2,122.9L1574.5,125.8L1575.7,128.8L1576.9,131.7L1578.1,134.6L1579.2,137.3L1580.3,139.9L1581.3,142.2L1582.3,144.3L1583.2,146.3L1584.1,148.1L1585.0,150.0L1585.8,151.8L1586.6,153.6L1587.3,155.6L1588.0,157.7L1588.7,160.0L1589.4,162.4L1590.0,164.9L1590.6,167.5L1591.2,170.2L1591.8,172.9L1592.3,175.6L1592.8,178.4L1593.3,181.0L1593.8,183.7L1594.3,186.2L1594.7,188.7L1595.2,191.2L1595.6,193.6L1596.1,196.0L1596.5,198.4L1596.9,200.7L1597.4,203.0L1597.8,205.3L1598.2,207.7L1598.7,210.0L1599.2,212.3L1599.6,214.6L1600.1,216.9L1600.6,219.2L1601.2,221.6L1601.7,224.0L1602.3,226.5L1602.9,229.0L1603.6,231.5L1604.3,234.1L1605.0,236.7L1605.7,239.4L1606.5,242.2L1607.3,244.9L1608.2,247.7L1609.1,250.4L1610.1,253.1L1611.1,255.8L1612.2,258.4L1613.3,260.8L1614.5,263.2L1615.8,265.3L1617.1,267.2L1618.4,268.6L1619.8,269.5L1621.2,269.9L1622.6,269.5L1624.0,268.7L1625.4,267.4L1626.9,265.7L1628.3,263.9L1629.7,261.8L1631.1,259.6L1632.5,257.3L1633.8,254.8L1635.1,252.3L1636.3,249.7L1637.5,247.1L1638.6,244.5L1639.7,241.9L1640.7,239.3L1641.7,236.7L1642.6,234.2L1643.4,231.6L1644.2,229.0L1645.0,226.5L1645.7,224.0L1646.4,221.5L1647.1,218.9L1647.7,216.4L1648.3,213.9L1648.8,211.5L1649.4,209.0L1649.9,206.5L1650.4,204.1L1650.9,201.6L1651.3,199.2L1651.8,196.7L1652.3,194.3L1652.7,191.9L1653.2,189.5L1653.6,187.1L1654.1,184.7L1654.6,182.3L1655.1,180.0L1655.6,177.6L1656.1,175.2L1656.6,172.9L1657.2,170.5L1657.7,168.2L1658.4,165.8L1659.0,163.5L1659.7,161.2L1660.4,158.9L1661.2,156.6L1662.0,154.3L1662.8,152.0L1663.7,149.7L1664.6,147.4L1665.6,145.1L1666.7,142.8L1667.7,140.6L1668.9,138.3L1670.0,136.1L1671.2,133.8L1672.4,131.6L1673.6,129.3L1674.9,127.1L1676.1,124.9L1677.4,122.7L1678.7,120.5L1680.0,118.3L1681.3,116.1L1682.6,113.9L1683.9,111.7L1685.2,109.6L1686.4,107.4L1687.7,105.3L1688.9,103.1L1690.1,101.0L1691.3,98.9L1692.5,96.8L1693.6,94.7L1694.7,92.6L1695.7,90.5L1696.7,88.4L1697.7,86.3L1698.6,84.2L1699.6,82.0L1700.5,79.8L1701.4,77.6L1702.3,75.2L1703.2,72.8L1704.2,70.3L1705.1,67.6L1706.1,64.9L1707.2,62.0L1708.2,58.9L1709.3,55.7L1710.5,52.6L1711.7,49.7L1713.0,47.3L1714.3,45.7L1715.7,44.8L1717.2,44.6L1718.6,45.1L1720.1,46.1L1721.4,47.6L1722.8,49.4L1724.0,51.4L1725.2,53.6L1726.3,55.8L1727.4,58.1L1728.5,60.4L1729.5,62.6L1730.5,64.9L1731.4,67.2L1732.4,69.5L1733.2,71.9L1734.1,74.2L1734.9,76.5L1735.7,78.9L1736.4,81.2L1737.2,83.6L1737.9,86.0L1738.5,88.4L1739.2,90.8L1739.8,93.2L1740.4,95.6L1740.9,98.0L1741.5,100.4L1742.0,102.9L1742.5,105.3L1742.9,107.8L1743.4,110.2L1743.8,112.7L1744.2,115.2L1744.6,117.6L1745.0,120.1L1745.3,122.6L1745.6,125.1L1746.0,127.6L1746.3,130.1L1746.6,132.6L1746.9,135.1L1747.1,137.6L1747.4,140.1L1747.6,142.6L1747.9,145.1L1748.1,147.7L1748.3,150.2L1748.5,152.7L1748.8,155.2L1749.0,157.8L1749.2,160.3L1749.4,162.8L1749.6,165.3L1749.8,167.9L1750.0,170.4L1750.2,172.9L1750.4,175.5L1750.6,178.0L1750.8,180.5L1751.0,183.0L1751.2,185.5L1751.4,188.1L1751.6,190.6L1751.8,193.1L1752.0,195.6L1752.3,198.1L1752.5,200.6L1752.7,203.2L1752.9,205.7L1753.2,208.2L1753.4,210.7L1753.7,213.2L1753.9,215.7L1754.2,218.2L1754.4,220.7L1754.7,223.2L1754.9,225.7L1755.2,228.2L1755.4,230.7L1755.7,233.2L1756.0,235.7L1756.2,238.2L1756.5,240.7L1756.8,243.2L1757.0,245.7L1757.3,248.2L1757.6,250.7L1757.9,253.1L1758.2,255.6L1758.4,258.1L1758.7,260.6L1759.0,263.1L1759.3,265.6L1759.6,268.1L1759.9,270.5L1760.2,273.0L1760.5,275.5L1760.8,278.0L1761.1,280.5L1761.4,283.0L1761.7,285.4L1762.0,287.9L1762.3,290.4L1762.6,292.9L1762.9,295.3L1763.3,297.8L1763.6,300.3L1763.9,302.8L1764.2,305.2L1764.5,307.7L1764.8,310.2L1765.2,312.7L1765.5,315.1L1765.8,317.6L1766.1,320.1L1766.4,322.6L1766.8,325.0L1767.1,327.5L1767.4,330.0L1767.8,332.4L1768.1,334.9L1768.4,337.4L1768.7,339.8L1769.1,342.3L1769.4,344.8L1769.7,347.3L1770.1,349.7L1770.4,352.2L1770.7,354.7L1771.1,357.1L1771.4,359.6L1771.7,362.1L1772.1,364.5L1772.4,367.0L1772.7,369.5L1773.1,371.9L1773.4,374.4L1773.7,376.9L1774.1,379.4L1774.4,381.8L1774.8,384.3L1775.1,386.8L1775.4,389.2L1775.8,391.7L1776.1,394.2L1776.4,396.6L1776.8,399.1L1777.1,401.6L1777.4,404.1L1777.8,406.5L1778.1,409.0L1778.4,411.5L1778.8,413.9L1779.1,416.4L1779.4,418.9L1779.8,421.4L1780.1,423.8L1780.4,426.3L1780.7,428.8L1781.1,431.3L1781.4,433.8L1781.7,436.2L1782.0,438.7L1782.4,441.2L1782.7,443.7L1783.0,446.1L1783.4,448.6L1783.7,451.1L1784.0,453.6L1784.3,456.1L1784.7,458.5L1785.0,461.0L1785.3,463.5L1785.7,466.0L1786.0,468.5L1786.4,470.9L1786.7,473.4L1787.0,475.9L1787.4,478.4L1787.7,480.9L1788.1,483.3L1788.5,485.8L1788.8,488.3L1789.2,490.8L1789.6,493.2L1789.9,495.7L1790.3,498.2L1790.7,500.7L1791.1,503.1L1791.5,505.6L1791.8,508.1L1792.2,510.6L1792.7,513.0L1793.1,515.5L1793.5,518.0L1793.9,520.4L1794.3,522.9L1794.8,525.4L1795.2,527.8L1795.6,530.3L1796.1,532.8L1796.6,535.2L1797.0,537.7L1797.5,540.1L1798.0,542.6L1798.5,545.0L1799.0,547.5L1799.5,550.0L1800.0,552.4L1800.5,554.9L1801.0,557.3L1801.6,559.8L1802.1,562.2L1802.7,564.6L1803.2,567.1L1803.8,569.5L1804.4,572.0L1805.0,574.4L1805.6,576.8L1806.2,579.3L1806.8,581.7L1807.5,584.1L1808.1,586.5L1808.7,589.0L1809.4,591.4L1810.1,593.8L1810.7,596.2L1811.4,598.6L1812.1,601.0L1812.8,603.5L1813.5,605.9L1814.3,608.3L1815.0,610.7L1815.7,613.1L1816.5,615.5L1817.2,617.9L1818.0,620.2L1818.7,622.6L1819.5,625.0L1820.3,627.4L1821.1,629.8L1821.9,632.2L1822.7,634.5L1823.5,636.9L1824.3,639.3L1825.2,641.6L1826.0,644.0L1826.9,646.4L1827.7,648.7L1828.6,651.1L1829.4,653.4L1830.3,655.8L1831.2,658.1L1832.1,660.4L1833.0,662.8L1833.9,665.1L1834.8,667.4L1835.7,669.8L1836.6,672.1L1837.6,674.4L1838.5,676.7L1839.4,679.0L1840.4,681.3L1841.3,683.6L1842.3,685.9L1843.3,688.2L1844.3,690.5L1845.2,692.8L1846.2,695.1L1847.2,697.4L1848.2,699.6L1849.3,701.9L1850.3,704.2L1851.3,706.4L1852.4,708.7L1853.4,710.9L1854.5,713.2L1855.5,715.4L1856.6,717.6L1857.7,719.9L1858.8,722.1L1859.9,724.3L1861.0,726.5L1862.1,728.8L1863.2,731.0L1864.3,733.2L1865.5,735.4L1866.6,737.6L1867.8,739.7L1868.9,741.9L1870.1,744.1L1871.3,746.3L1872.5,748.4L1873.7,750.6L1874.9,752.8L1876.1,754.9L1877.4,757.1L1878.6,759.2L1879.9,761.3L1881.1,763.5L1882.4,765.6L1883.7,767.7L1885.0,769.8L1886.3,771.9L1887.6,774.0L1888.9,776.1L1890.2,778.2L1891.6,780.3L1892.9,782.3L1894.3,784.4L1895.7,786.5L1897.1,788.5L1898.4,790.6L1899.9,792.6L1901.3,794.6L1902.7,796.7L1904.1,798.7L1905.6,800.7L1907.0,802.7L1908.5,804.7L1910.0,806.7L1911.5,808.7L1913.0,810.7L1914.5,812.6L1916.0,814.6L1917.6,816.6L1919.1,818.5L1920.7,820.5L1922.3,822.4L1923.9,824.3L1925.5,826.2L1927.1,828.2L1928.7,830.1L1930.3,832.0L1932.0,833.9L1933.6,835.7L1935.3,837.6L1937.0,839.5L1938.7,841.3L1940.3,843.2L1942.1,845.0L1943.8,846.9L1945.5,848.7L1947.2,850.5L1949.0,852.3L1950.8,854.2L1952.5,856.0L1954.3,857.7L1956.1,859.5L1957.9,861.3L1959.7,863.1L1961.5,864.8L1963.3,866.6L1965.2,868.3L1967.0,870.0L1968.9,871.7L1970.7,873.5L1972.6,875.2L1974.5,876.9L1976.4,878.5L1978.3,880.2L1980.2,881.9L1982.1,883.5L1984.0,885.2L1985.9,886.8L1987.8,888.5L1989.8,890.1L1991.7,891.7L1993.7,893.3L1995.7,894.9L1997.6,896.5L1999.6,898.1L2001.6,899.6L2003.6,901.2L2005.6,902.7L2007.6,904.3L2009.6,905.8L2011.6,907.3L2013.6,908.8L2015.7,910.3L2017.7,911.8L2019.7,913.3L2021.8,914.7L2023.9,916.2L2025.9,917.7L2028.0,919.1L2030.0,920.5L2032.1,921.9L2034.2,923.3L2036.3,924.7L2038.4,926.1L2040.5,927.5L2042.6,928.9L2044.7,930.2L2046.8,931.6L2048.9,932.9L2051.0,934.2L2053.2,935.5L2055.3,936.8L2057.4,938.1L2059.6,939.4L2061.7,940.7L2063.9,942.0L2066.0,943.2L2068.2,944.5L2070.4,945.7L2072.5,947.0L2074.7,948.2L2076.9,949.4L2079.1,950.6L2081.2,951.8L2083.4,953.0L2085.6,954.2L2087.8,955.3L2090.0,956.5L2092.2,957.7L2094.5,958.8L2096.7,959.9L2098.9,961.1L2101.1,962.2L2103.3,963.3L2105.6,964.4L2107.8,965.5L2110.1,966.6L2112.3,967.7L2114.6,968.7L2116.8,969.8L2119.1,970.8L2121.3,971.9L2123.6,972.9L2125.8,974.0L2128.1,975.0L2130.4,976.0L2132.7,977.0L2134.9,978.0L2137.2,979.0L2139.5,980.0L2141.8,981.0L2144.1,982.0L2146.4,982.9L2148.7,983.9L2151.0,984.8L2153.3,985.8L2155.6,986.7L2157.9,987.7L2160.2,988.6L2162.6,989.5L2164.9,990.4L2167.2,991.3L2169.5,992.2L2171.9,993.1L2174.2,994.0L2176.5,994.9L2178.9,995.8L2181.2,996.7L2183.6,997.5L2185.9,998.4L2188.2,999.2L2190.6,1000.1L2192.9,1000.9L2195.3,1001.8L2197.7,1002.6L2200.0,1003.4L2202.4,1004.2L2204.7,1005.0L2207.1,1005.8L2209.5,1006.7L2211.9,1007.4L2214.2,1008.2L2216.6,1009.0L2219.0,1009.8L2221.4,1010.6L2223.7,1011.4L2226.1,1012.1L2228.5,1012.9L2230.9,1013.7L2233.3,1014.4L2235.7,1015.2L2238.1,1015.9L2240.5,1016.6L2242.8,1017.4L2245.2,1018.1L2247.6,1018.8L2250.0,1019.6L2252.4,1020.3L2254.8,1021.0L2257.2,1021.7L2259.7,1022.4L2262.1,1023.1L2264.5,1023.8L2266.9,1024.5L2269.3,1025.2L2271.7,1025.9L2274.1,1026.6L2276.5,1027.3L2278.9,1028.0L2281.3,1028.6L2283.8,1029.3L2286.2,1030.0L2288.6,1030.6L2291.0,1031.3L2293.4,1032.0L2295.8,1032.6L2298.3,1033.3L2300.7,1033.9L2303.1,1034.6L2305.5,1035.2L2308.0,1035.9L2310.4,1036.5L2312.8,1037.2L2315.2,1037.8L2317.6,1038.4L2320.1,1039.1L2322.5,1039.7L2324.9,1040.3L2327.3,1040.9L2329.8,1041.6L2332.2,1042.2L2334.6,1042.8L2337.0,1043.4L2339.5,1044.0L2341.9,1044.7L2344.3,1045.3L2346.7,1045.9L2349.2,1046.5L2351.6,1047.1L2354.0,1047.7L2356.4,1048.3L2358.9,1048.9L2361.3,1049.5L2363.7,1050.1L2366.1,1050.7L2368.6,1051.3L2371.0,1051.9L2373.4,1052.5L2375.8,1053.1L2378.2,1053.7L2380.7,1054.3L2383.1,1054.9L2385.5,1055.5" fill="none" stroke="#f00" stroke-width="4.8" stroke-linejoin="round" stroke-linecap="round"/>
<path d="M1414.6,148.0L1415.1,150.6L1415.5,153.2L1416.0,155.8L1416.5,158.3L1416.9,160.8L1417.4,163.3L1417.9,165.8L1418.4,168.2L1418.9,170.7L1419.3,173.1L1419.8,175.5L1420.3,177.9L1420.8,180.3L1421.3,182.7L1421.8,185.0L1422.2,187.4L1422.7,189.8L1423.2,192.1L1423.6,194.5L1424.1,196.8L1424.5,199.2L1425.0,201.6L1425.4,204.0L1425.9,206.3L1426.3,208.7L1426.7,211.1L1427.1,213.6L1427.5,216.0L1427.9,218.4L1428.2,220.9L1428.6,223.4L1428.9,225.9L1429.3,228.4L1429.6,231.0L1429.9,233.6L1430.2,236.2L1430.5,238.8L1430.7,241.5L1431.0,244.1L1431.3,246.8L1431.5,249.5L1431.8,252.2L1432.1,254.9L1432.5,257.5L1432.8,260.2L1433.2,262.8L1433.6,265.4L1434.1,268.0L1434.5,270.5L1435.1,273.0L1435.7,275.4L1436.3,277.8L1437.0,280.2L1437.8,282.5L1438.6,284.7L1439.5,286.9L1440.5,289.0L1441.6,291.0L1442.7,292.9L1443.9,294.7L1445.3,296.4L1446.6,297.7L1448.0,298.2L1449.4,298.0L1450.7,297.1L1452.1,295.6L1453.3,293.8L1454.6,291.7L1455.8,289.3L1457.0,286.8L1458.1,284.1L1459.1,281.2L1460.2,278.4L1461.1,275.4L1462.0,272.5L1462.8,269.6L1463.5,266.9L1464.2,264.2L1464.7,261.6L1465.3,259.0L1465.7,256.6L1466.2,254.2L1466.6,251.8L1467.0,249.5L1467.3,247.1L1467.7,244.8L1468.0,242.5L1468.4,240.2L1468.8,237.8L1469.2,235.4L1469.6,233.1L1470.0,230.7L1470.4,228.3L1470.8,225.9L1471.3,223.4L1471.7,221.0L1472.2,218.6L1472.7,216.1L1473.2,213.7L1473.7,211.2L1474.2,208.7L1474.7,206.3L1475.3,203.8L1475.8,201.3L1476.4,198.9L1477.0,196.4L1477.6,193.9L1478.2,191.5L1478.8,189.0L1479.4,186.6L1480.1,184.1L1480.8,181.7L1481.4,179.2L1482.2,176.8L1482.9,174.4L1483.6,172.0L1484.4,169.6L1485.1,167.2L1485.9,164.8L1486.7,162.5L1487.5,160.1L1488.4,157.8L1489.2,155.4L1490.0,153.1L1490.9,150.8L1491.7,148.5L1492.6,146.1L1493.4,143.8L1494.2,141.5L1495.1,139.2L1495.9,136.9L1496.7,134.6L1497.5,132.2L1498.3,129.9L1499.0,127.6L1499.8,125.2L1500.5,122.9L1501.2,120.5L1501.9,118.2L1502.5,115.8L1503.1,113.4L1503.7,111.0L1504.3,108.5L1504.8,106.1L1505.3,103.6L1505.7,101.2L1506.1,98.7L1506.4,96.1L1506.8,93.6L1507.1,91.1L1507.4,88.5L1507.7,86.0L1508.1,83.4L1508.4,80.8L1508.8,78.3L1509.1,75.7L1509.6,73.2L1510.1,70.6L1510.6,68.1L1511.2,65.5L1511.9,63.0L1512.6,60.5L1513.4,58.1L1514.4,55.6L1515.4,53.2L1516.6,50.8L1517.8,48.7L1519.0,47.0L1520.3,46.0L1521.5,45.9L1522.7,46.7L1523.8,48.1L1524.9,50.2L1526.1,52.7L1527.2,55.6L1528.3,58.7L1529.4,61.9L1530.6,65.0L1531.8,68.0L1533.1,70.6L1534.5,72.8L1535.9,74.5L1537.5,75.5L1539.2,75.6L1541.1,75.0L1543.0,73.8L1545.0,72.0L1547.0,69.9L1549.1,67.6L1551.0,65.2L1553.0,62.9L1554.8,61.0L1556.6,59.4L1558.3,58.6L1560.0,58.7L1561.6,59.6L1563.1,61.4L1564.6,63.6L1566.0,66.0L1567.3,68.4L1568.5,70.9L1569.7,73.2L1570.8,75.6L1571.9,78.0L1572.9,80.4L1573.8,82.7L1574.7,85.0L1575.6,87.4L1576.4,89.7L1577.2,92.0L1577.9,94.3L1578.7,96.7L1579.4,99.0L1580.1,101.3L1580.8,103.7L1581.5,106.0L1582.2,108.4L1582.9,110.7L1583.5,113.1L1584.2,115.5L1584.9,117.9L1585.6,120.3L1586.3,122.7L1587.0,125.1L1587.7,127.6L1588.4,130.0L1589.0,132.5L1589.7,134.9L1590.4,137.4L1591.0,139.8L1591.7,142.3L1592.3,144.7L1592.9,147.1L1593.5,149.6L1594.1,152.0L1594.6,154.5L1595.2,156.9L1595.7,159.3L1596.2,161.8L1596.7,164.2L1597.1,166.6L1597.6,169.0L1598.0,171.4L1598.4,173.7L1598.7,176.1L1599.1,178.5L1599.4,180.9L1599.7,183.3L1600.1,185.6L1600.4,188.1L1600.8,190.5L1601.1,193.0L1601.5,195.4L1601.9,198.0L1602.3,200.5L1602.8,203.1L1603.3,205.7L1603.8,208.4L1604.4,211.1L1605.0,213.7L1605.7,216.4L1606.5,219.1L1607.3,221.7L1608.2,224.3L1609.1,226.9L1610.2,229.5L1611.3,232.0L1612.5,234.3L1613.7,236.6L1615.0,238.5L1616.3,240.3L1617.7,241.7L1619.1,242.8L1620.5,243.5L1622.0,243.7L1623.5,243.4L1624.9,242.6L1626.4,241.2L1627.9,239.4L1629.3,237.1L1630.7,234.6L1632.1,231.7L1633.5,228.8L1634.8,225.8L1636.0,222.8L1637.2,219.9L1638.3,217.0L1639.4,214.2L1640.5,211.5L1641.5,208.8L1642.4,206.2L1643.3,203.6L1644.2,201.1L1645.0,198.7L1645.8,196.2L1646.6,193.8L1647.3,191.5L1648.0,189.2L1648.7,186.9L1649.4,184.6L1650.0,182.3L1650.6,180.1L1651.2,177.8L1651.8,175.6L1652.4,173.4L1653.0,171.1L1653.6,168.9L1654.1,166.7L1654.7,164.4L1655.2,162.2L1655.8,159.9L1656.4,157.6L1656.9,155.2L1657.5,152.9L1658.1,150.5L1658.7,148.0L1659.4,145.6L1660.0,143.1L1660.7,140.6L1661.4,138.0L1662.1,135.5L1662.9,133.0L1663.7,130.4L1664.5,127.9L1665.4,125.4L1666.3,123.0L1667.3,120.6L1668.3,118.2L1669.4,115.9L1670.5,113.6L1671.7,111.5L1672.9,109.4L1674.2,107.4L1675.6,105.4L1677.0,103.6L1678.5,101.7L1680.0,100.0L1681.6,98.2L1683.2,96.4L1684.8,94.6L1686.4,92.8L1688.1,90.9L1689.8,88.9L1691.5,86.9L1693.2,84.7L1694.9,82.5L1696.6,80.1L1698.3,77.5L1700.0,74.8L1701.6,72.2L1703.2,69.6L1704.8,67.3L1706.4,65.2L1708.0,63.5L1709.5,62.2L1711.0,61.5L1712.4,61.4L1713.9,62.1L1715.2,63.4L1716.6,65.2L1717.9,67.4L1719.1,69.6L1720.3,71.9L1721.4,74.2L1722.5,76.6L1723.6,78.9L1724.6,81.3L1725.6,83.6L1726.5,86.0L1727.4,88.4L1728.2,90.8L1729.0,93.2L1729.8,95.6L1730.5,98.0L1731.2,100.4L1731.9,102.8L1732.5,105.3L1733.1,107.7L1733.7,110.2L1734.2,112.7L1734.7,115.1L1735.2,117.6L1735.7,120.1L1736.1,122.6L1736.5,125.1L1736.9,127.6L1737.3,130.1L1737.6,132.6L1738.0,135.1L1738.3,137.6L1738.6,140.1L1738.8,142.6L1739.1,145.2L1739.4,147.7L1739.6,150.2L1739.8,152.7L1740.0,155.3L1740.3,157.8L1740.5,160.3L1740.7,162.9L1740.9,165.4L1741.1,167.9L1741.2,170.5L1741.4,173.0L1741.6,175.5L1741.8,178.1L1742.0,180.6L1742.2,183.1L1742.4,185.6L1742.6,188.1L1742.8,190.7L1743.0,193.2L1743.2,195.7L1743.4,198.2L1743.6,200.7L1743.9,203.2L1744.1,205.7L1744.3,208.2L1744.5,210.7L1744.8,213.2L1745.0,215.7L1745.2,218.2L1745.5,220.7L1745.7,223.2L1746.0,225.7L1746.2,228.2L1746.5,230.6L1746.7,233.1L1747.0,235.6L1747.2,238.1L1747.5,240.6L1747.7,243.0L1748.0,245.5L1748.3,248.0L1748.5,250.5L1748.8,252.9L1749.1,255.4L1749.4,257.9L1749.6,260.3L1749.9,262.8L1750.2,265.3L1750.5,267.7L1750.8,270.2L1751.1,272.7L1751.4,275.1L1751.7,277.6L1752.0,280.1L1752.2,282.5L1752.5,285.0L1752.8,287.4L1753.1,289.9L1753.5,292.3L1753.8,294.8L1754.1,297.3L1754.4,299.7L1754.7,302.2L1755.0,304.6L1755.3,307.1L1755.6,309.5L1755.9,312.0L1756.3,314.4L1756.6,316.9L1756.9,319.3L1757.2,321.8L1757.5,324.2L1757.9,326.7L1758.2,329.1L1758.5,331.6L1758.8,334.0L1759.2,336.5L1759.5,338.9L1759.8,341.4L1760.1,343.8L1760.5,346.3L1760.8,348.8L1761.1,351.2L1761.5,353.7L1761.8,356.1L1762.1,358.6L1762.5,361.0L1762.8,363.5L1763.1,365.9L1763.5,368.4L1763.8,370.8L1764.2,373.3L1764.5,375.8L1764.8,378.2L1765.2,380.7L1765.5,383.1L1765.9,385.6L1766.2,388.1L1766.5,390.5L1766.9,393.0L1767.2,395.4L1767.6,397.9L1767.9,400.4L1768.2,402.8L1768.6,405.3L1768.9,407.8L1769.3,410.3L1769.6,412.7L1769.9,415.2L1770.3,417.7L1770.6,420.2L1771.0,422.6L1771.3,425.1L1771.6,427.6L1772.0,430.1L1772.3,432.6L1772.6,435.0L1773.0,437.5L1773.3,440.0L1773.7,442.5L1774.0,445.0L1774.3,447.5L1774.7,450.0L1775.0,452.5L1775.3,455.0L1775.7,457.5L1776.0,460.0L1776.4,462.5L1776.7,465.0L1777.1,467.5L1777.4,470.0L1777.7,472.5L1778.1,475.0L1778.4,477.5L1778.8,480.0L1779.2,482.5L1779.5,485.0L1779.9,487.5L1780.2,490.0L1780.6,492.5L1781.0,495.0L1781.3,497.5L1781.7,500.0L1782.1,502.5L1782.4,505.0L1782.8,507.5L1783.2,510.0L1783.6,512.5L1784.0,515.0L1784.4,517.5L1784.7,520.0L1785.1,522.5L1785.5,525.0L1785.9,527.5L1786.4,530.0L1786.8,532.5L1787.2,535.0L1787.6,537.4L1788.0,539.9L1788.5,542.4L1788.9,544.9L1789.3,547.4L1789.8,549.9L1790.2,552.4L1790.7,554.9L1791.1,557.3L1791.6,559.8L1792.0,562.3L1792.5,564.8L1793.0,567.3L1793.5,569.7L1794.0,572.2L1794.5,574.7L1795.0,577.2L1795.5,579.6L1796.0,582.1L1796.5,584.5L1797.0,587.0L1797.5,589.5L1798.1,591.9L1798.6,594.4L1799.2,596.8L1799.7,599.3L1800.3,601.7L1800.9,604.2L1801.4,606.6L1802.0,609.1L1802.6,611.5L1803.2,613.9L1803.8,616.4L1804.4,618.8L1805.0,621.2L1805.7,623.6L1806.3,626.1L1806.9,628.5L1807.6,630.9L1808.3,633.3L1808.9,635.7L1809.6,638.1L1810.3,640.5L1811.0,642.9L1811.7,645.3L1812.4,647.7L1813.1,650.1L1813.8,652.4L1814.6,654.8L1815.3,657.2L1816.1,659.6L1816.9,661.9L1817.6,664.3L1818.4,666.7L1819.2,669.0L1820.0,671.4L1820.8,673.7L1821.6,676.1L1822.5,678.4L1823.3,680.7L1824.2,683.0L1825.0,685.4L1825.9,687.7L1826.8,690.0L1827.7,692.3L1828.6,694.6L1829.5,696.9L1830.5,699.2L1831.4,701.5L1832.3,703.8L1833.3,706.1L1834.3,708.4L1835.3,710.6L1836.3,712.9L1837.3,715.1L1838.3,717.4L1839.3,719.7L1840.4,721.9L1841.4,724.1L1842.5,726.4L1843.6,728.6L1844.7,730.8L1845.8,733.0L1846.9,735.2L1848.0,737.4L1849.2,739.6L1850.3,741.8L1851.5,744.0L1852.7,746.2L1853.9,748.4L1855.1,750.5L1856.3,752.7L1857.5,754.9L1858.7,757.0L1860.0,759.2L1861.2,761.3L1862.5,763.4L1863.8,765.6L1865.1,767.7L1866.4,769.8L1867.7,771.9L1869.0,774.0L1870.4,776.1L1871.7,778.2L1873.1,780.3L1874.4,782.3L1875.8,784.4L1877.2,786.5L1878.6,788.5L1880.0,790.6L1881.4,792.6L1882.9,794.6L1884.3,796.7L1885.8,798.7L1887.2,800.7L1888.7,802.7L1890.2,804.7L1891.7,806.7L1893.2,808.7L1894.7,810.7L1896.2,812.6L1897.8,814.6L1899.3,816.6L1900.9,818.5L1902.4,820.5L1904.0,822.4L1905.6,824.3L1907.2,826.2L1908.8,828.2L1910.4,830.1L1912.0,832.0L1913.6,833.9L1915.3,835.7L1916.9,837.6L1918.6,839.5L1920.3,841.3L1921.9,843.2L1923.6,845.0L1925.3,846.9L1927.0,848.7L1928.7,850.5L1930.5,852.3L1932.2,854.1L1933.9,855.9L1935.7,857.7L1937.4,859.5L1939.2,861.3L1941.0,863.0L1942.8,864.8L1944.5,866.5L1946.3,868.3L1948.2,870.0L1950.0,871.7L1951.8,873.4L1953.6,875.1L1955.5,876.8L1957.3,878.5L1959.2,880.2L1961.0,881.9L1962.9,883.5L1964.8,885.2L1966.7,886.8L1968.6,888.5L1970.5,890.1L1972.4,891.7L1974.3,893.3L1976.2,894.9L1978.2,896.5L1980.1,898.1L1982.0,899.7L1984.0,901.2L1986.0,902.8L1987.9,904.3L1989.9,905.9L1991.9,907.4L1993.9,908.9L1995.9,910.4L1997.9,911.9L1999.9,913.4L2001.9,914.9L2003.9,916.4L2006.0,917.8L2008.0,919.3L2010.1,920.7L2012.1,922.2L2014.2,923.6L2016.2,925.0L2018.3,926.4L2020.4,927.8L2022.5,929.2L2024.5,930.6L2026.6,931.9L2028.7,933.3L2030.8,934.6L2033.0,936.0L2035.1,937.3L2037.2,938.6L2039.3,939.9L2041.5,941.2L2043.6,942.5L2045.8,943.7L2047.9,945.0L2050.1,946.3L2052.2,947.5L2054.4,948.7L2056.6,950.0L2058.8,951.2L2060.9,952.4L2063.1,953.6L2065.3,954.7L2067.5,955.9L2069.7,957.1L2071.9,958.2L2074.2,959.4L2076.4,960.5L2078.6,961.6L2080.8,962.7L2083.1,963.8L2085.3,964.9L2087.6,966.0L2089.8,967.1L2092.1,968.1L2094.3,969.2L2096.6,970.2L2098.8,971.3L2101.1,972.3L2103.4,973.3L2105.7,974.4L2108.0,975.4L2110.2,976.4L2112.5,977.4L2114.8,978.3L2117.1,979.3L2119.4,980.3L2121.7,981.2L2124.0,982.2L2126.4,983.1L2128.7,984.1L2131.0,985.0L2133.3,985.9L2135.7,986.9L2138.0,987.8L2140.3,988.7L2142.7,989.6L2145.0,990.5L2147.3,991.4L2149.7,992.3L2152.0,993.1L2154.4,994.0L2156.7,994.9L2159.1,995.7L2161.5,996.6L2163.8,997.4L2166.2,998.3L2168.6,999.1L2170.9,999.9L2173.3,1000.8L2175.7,1001.6L2178.1,1002.4L2180.5,1003.2L2182.8,1004.0L2185.2,1004.8L2187.6,1005.6L2190.0,1006.4L2192.4,1007.2L2194.8,1008.0L2197.2,1008.8L2199.6,1009.6L2202.0,1010.4L2204.4,1011.2L2206.8,1011.9L2209.2,1012.7L2211.6,1013.5L2214.0,1014.2L2216.5,1015.0L2218.9,1015.8L2221.3,1016.5L2223.7,1017.3L2226.1,1018.0L2228.5,1018.8L2231.0,1019.5L2233.4,1020.3L2235.8,1021.0L2238.2,1021.7L2240.7,1022.5L2243.1,1023.2L2245.5,1024.0L2247.9,1024.7L2250.4,1025.4L2252.8,1026.2L2255.2,1026.9L2257.7,1027.6L2260.1,1028.3L2262.5,1029.0L2265.0,1029.8L2267.4,1030.5L2269.8,1031.2L2272.3,1031.9L2274.7,1032.6L2277.1,1033.3L2279.6,1034.0L2282.0,1034.6L2284.4,1035.3L2286.9,1036.0L2289.3,1036.7L2291.7,1037.3L2294.2,1038.0L2296.6,1038.6L2299.0,1039.3L2301.5,1039.9L2303.9,1040.5L2306.3,1041.2L2308.8,1041.8L2311.2,1042.4L2313.6,1043.0L2316.1,1043.6L2318.5,1044.2L2320.9,1044.7L2323.4,1045.3L2325.8,1045.8L2328.2,1046.4L2330.6,1046.9L2333.1,1047.5L2335.5,1048.0L2337.9,1048.5L2340.3,1049.0L2342.7,1049.5L2345.2,1049.9L2347.6,1050.4L2350.0,1050.9L2352.4,1051.3L2354.8,1051.7L2357.2,1052.2L2359.6,1052.6L2362.1,1053.0L2364.5,1053.3L2366.9,1053.7L2369.3,1054.1L2371.7,1054.4L2374.1,1054.8L2376.5,1055.1L2378.9,1055.4L2381.2,1055.7L2383.6,1055.9L2386.0,1056.2" fill="none" stroke="#00f" stroke-width="4.8" stroke-linejoin="round" stroke-linecap="round"/>
<line x1="2203.4" y1="803.5" x2="2315.9" y2="803.5" stroke="#000" stroke-width="5.6"/>
<text x="2325.7" y="820.0" font-size="49" font-weight="bold">15</text>
<line x1="2203.4" y1="864.3" x2="2315.9" y2="864.3" stroke="#f00" stroke-width="5.6"/>
<text x="2325.7" y="880.8" font-size="49" font-weight="bold">16</text>
<line x1="2203.4" y1="925.1" x2="2315.9" y2="925.1" stroke="#00f" stroke-width="5.6"/>
<text x="2325.7" y="941.6" font-size="49" font-weight="bold">17</text>
</svg>
</body></html>
